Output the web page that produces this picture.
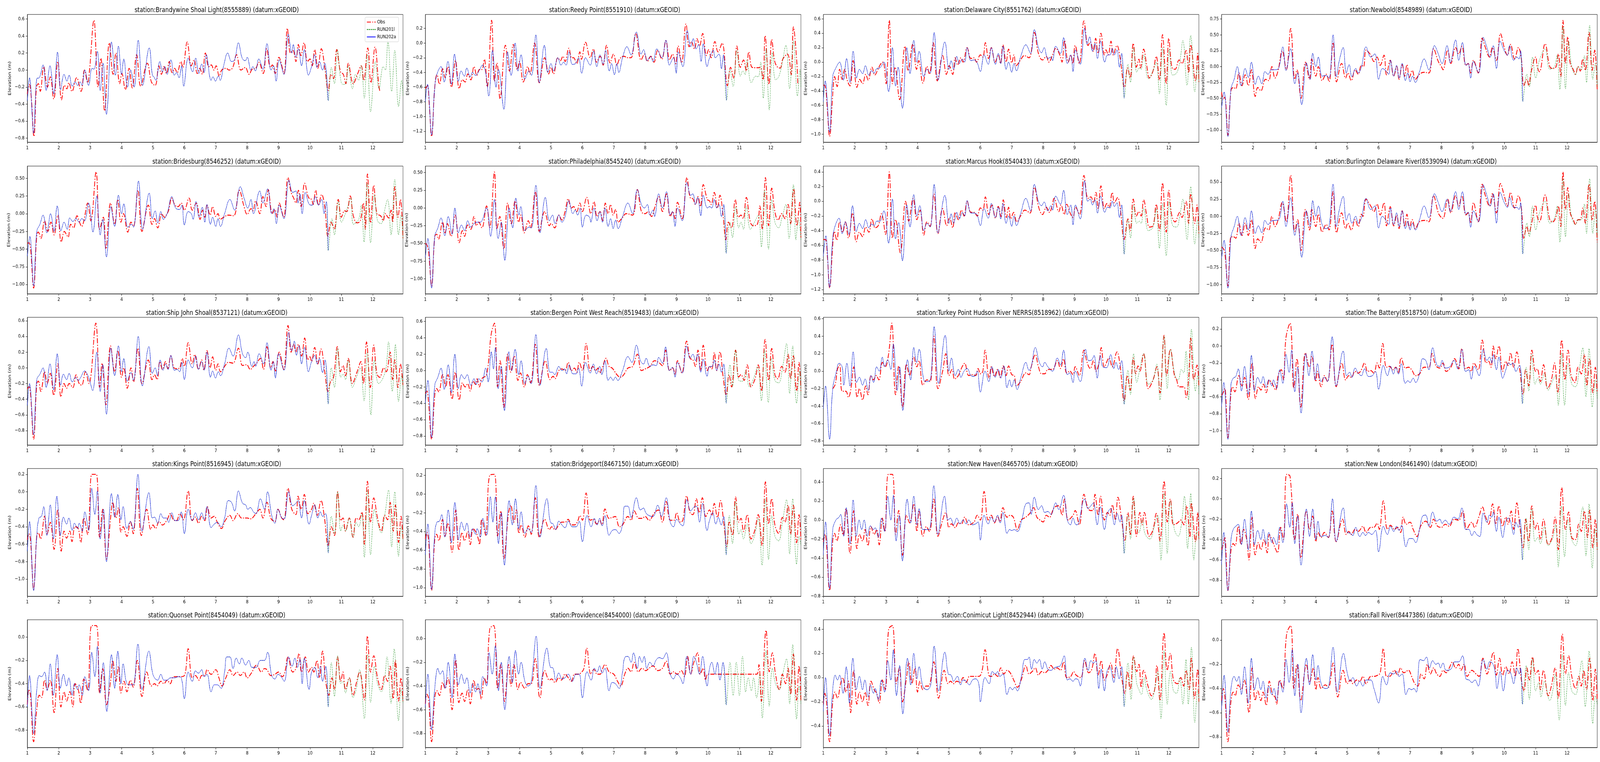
<!DOCTYPE html>
<html><head><meta charset="utf-8">
<script src="https://cdn.jsdelivr.net/npm/echarts@6/dist/echarts.min.js"></script>
<style>html,body{margin:0;padding:0;background:#fff;overflow:hidden}#c{width:5150px;height:1950px;transform-origin:0 0}</style>
</head><body><div id="c"></div>
<script>
// ---------------- DATA ----------------
const stations = ["Brandywine Shoal Light(8555889)","Reedy Point(8551910)","Delaware City(8551762)","Newbold(8548989)",
"Bridesburg(8546252)","Philadelphia(8545240)","Marcus Hook(8540433)","Burlington Delaware River(8539094)",
"Ship John Shoal(8537121)","Bergen Point West Reach(8519483)","Turkey Point Hudson River NERRS(8518962)","The Battery(8518750)",
"Kings Point(8516945)","Bridgeport(8467150)","New Haven(8465705)","New London(8461490)",
"Quonset Point(8454049)","Providence(8454000)","Conimicut Light(8452944)","Fall River(8447386)"];
const seriesNames = ["Obs","RUN201l","RUN202a"];
const yTickStep = [0.2,0.2,0.2,0.25, 0.25,0.25,0.2,0.25, 0.2,0.2,0.2,0.2, 0.2,0.2,0.2,0.2, 0.2,0.2,0.2,0.2];
const xTicks = [1,2,3,4,5,6,7,8,9,10,11,12];
const X_MIN = 1, X_MAX = 12.96;
const RUN202A_END = 10.59;

// 01 Brandywine Shoal Light
const obs01=[[1,-0.28],[1.07,-0.17],[1.12,-0.3],[1.21,-0.78],[1.29,-0.2],[1.35,-0.16],[1.41,-0.25],[1.52,0.04],[1.64,-0.2],[1.73,-0.08],[1.84,-0.34],[1.97,0.1],[2.09,-0.35],[2.18,-0.18],[2.26,-0.22],[2.32,-0.15],[2.42,-0.25],[2.57,-0.09],[2.71,-0.25],[2.82,0.0],[2.92,-0.15],[2.98,0.0],[3.12,0.585],[3.25,-0.2],[3.34,0.14],[3.46,-0.48],[3.61,0.32],[3.73,-0.05],[3.82,0.2],[3.94,-0.16],[4.01,-0.04],[4.12,-0.23],[4.24,0.02],[4.34,-0.21],[4.48,0.18],[4.61,-0.19],[4.82,0.08],[4.95,-0.14],[5.07,-0.18],[5.19,0.05],[5.27,-0.05],[5.35,0.04],[5.43,-0.04],[5.52,0.1],[5.61,-0.03],[5.69,0.02],[5.77,-0.03],[5.89,0.1],[5.95,0.03],[6.09,0.33],[6.22,0.05],[6.31,0.12],[6.41,-0.04],[6.49,0.02],[6.57,-0.05],[6.67,0.2],[6.78,0.04],[6.86,0.06],[6.94,0.0],[7.01,0.05],[7.11,-0.07],[7.19,0.0],[7.33,0.02],[7.42,0.0],[7.54,0.03],[7.66,0.18],[7.8,0.0],[7.94,0.03],[8.06,-0.05],[8.16,0.01],[8.27,0.02],[8.37,0.09],[8.51,-0.04],[8.62,0.25],[8.74,0.03],[8.8,0.06],[8.89,-0.04],[9.01,0.15],[9.17,-0.04],[9.28,0.49],[9.38,0.2],[9.46,0.23],[9.55,0.1],[9.63,0.3],[9.71,0.17],[9.81,0.32],[9.92,0.1],[10.0,0.13],[10.07,0.05],[10.15,0.24],[10.25,0.02],[10.36,0.25],[10.48,0.0],[10.58,-0.24],[10.67,-0.05],[10.75,-0.1],[10.85,0.24],[10.97,-0.02],[11.06,-0.05],[11.14,-0.16],[11.22,0.08],[11.38,-0.16],[11.51,-0.05],[11.63,0.05],[11.71,-0.12],[11.84,0.26],[11.94,-0.15],[12.07,0.27],[12.19,-0.18],[12.23,-0.26]];
const mod01=[[1,-0.36],[1.07,-0.09],[1.2,-0.74],[1.3,-0.1],[1.38,-0.09],[1.5,0.06],[1.6,-0.24],[1.72,0.05],[1.84,-0.28],[1.96,0.21],[2.06,-0.23],[2.17,-0.05],[2.26,-0.13],[2.33,-0.06],[2.43,-0.19],[2.52,-0.14],[2.6,-0.18],[2.68,-0.14],[2.74,-0.18],[2.83,0.0],[2.95,-0.18],[3.06,0.02],[3.12,0.01],[3.23,0.22],[3.32,-0.24],[3.41,0.08],[3.52,-0.52],[3.68,0.33],[3.8,-0.06],[3.9,0.28],[4.0,-0.05],[4.07,0.13],[4.19,-0.2],[4.29,0.0],[4.4,-0.2],[4.53,0.35],[4.67,-0.18],[4.88,0.26],[4.98,-0.06],[5.03,-0.08],[5.09,-0.12],[5.22,0.1],[5.3,-0.02],[5.38,0.04],[5.45,-0.05],[5.57,0.12],[5.68,-0.06],[5.75,-0.03],[5.83,-0.09],[5.91,0.05],[5.98,-0.19],[6.12,0.14],[6.26,-0.02],[6.36,0.14],[6.46,-0.04],[6.55,0.07],[6.63,-0.03],[6.7,0.18],[6.85,-0.12],[6.91,-0.08],[6.99,-0.13],[7.08,-0.07],[7.14,-0.12],[7.25,0.05],[7.38,0.2],[7.5,0.1],[7.6,0.12],[7.72,0.32],[7.84,0.14],[7.94,0.11],[8.0,0.15],[8.12,0.0],[8.18,0.04],[8.26,-0.01],[8.37,0.13],[8.5,0.01],[8.63,0.31],[8.76,0.0],[8.84,0.05],[8.92,-0.13],[9.02,0.12],[9.17,-0.05],[9.31,0.42],[9.42,0.2],[9.47,0.3],[9.55,0.15],[9.63,0.25],[9.73,0.05],[9.82,0.24],[9.95,-0.06],[10.05,0.04],[10.15,0.18],[10.22,0.03],[10.3,0.1],[10.4,0.0],[10.47,0.08],[10.58,-0.36],[10.68,0.03],[10.78,-0.16],[10.87,0.24],[10.98,-0.12],[11.05,-0.17],[11.15,-0.15],[11.22,0.05],[11.35,-0.22],[11.45,-0.05],[11.55,-0.12],[11.63,0.05],[11.73,-0.33],[11.82,0.18],[11.93,-0.49],[12.08,0.1],[12.2,-0.22],[12.33,0.04],[12.4,0.0],[12.48,0.34],[12.6,-0.25],[12.7,0.23],[12.82,-0.43],[12.92,-0.12],[12.96,-0.3]];
// 02 Reedy Point
const obs02=[[1,-0.62],[1.07,-0.58],[1.12,-0.8],[1.2,-1.27],[1.3,-0.6],[1.37,-0.43],[1.45,-0.56],[1.55,-0.35],[1.63,-0.47],[1.72,-0.32],[1.83,-0.6],[1.96,-0.24],[2.08,-0.62],[2.18,-0.5],[2.27,-0.53],[2.35,-0.42],[2.45,-0.5],[2.55,-0.32],[2.64,-0.44],[2.72,-0.36],[2.8,-0.36],[2.88,-0.22],[2.97,-0.6],[3.11,0.31],[3.2,-0.52],[3.28,-0.27],[3.38,-0.76],[3.55,-0.03],[3.68,-0.38],[3.8,-0.02],[3.93,-0.36],[4.0,-0.25],[4.12,-0.53],[4.26,-0.32],[4.33,-0.42],[4.48,0.0],[4.63,-0.54],[4.8,-0.2],[4.93,-0.42],[5.0,-0.33],[5.08,-0.42],[5.22,-0.2],[5.3,-0.24],[5.38,-0.18],[5.45,-0.25],[5.57,-0.07],[5.66,-0.2],[5.72,-0.2],[5.82,-0.28],[5.92,-0.12],[5.97,-0.22],[6.1,0.01],[6.25,-0.2],[6.35,-0.08],[6.45,-0.26],[6.57,-0.18],[6.66,-0.3],[6.77,-0.03],[6.88,-0.27],[6.99,-0.15],[7.1,-0.3],[7.18,-0.22],[7.32,-0.18],[7.45,-0.2],[7.55,-0.2],[7.7,0.13],[7.87,-0.23],[7.98,-0.15],[8.07,-0.25],[8.18,-0.18],[8.28,-0.26],[8.4,-0.1],[8.53,-0.22],[8.66,0.03],[8.78,-0.23],[8.87,-0.15],[8.97,-0.28],[9.05,-0.04],[9.16,-0.27],[9.3,0.26],[9.4,-0.05],[9.47,0.02],[9.57,-0.08],[9.65,0.06],[9.73,-0.04],[9.83,0.13],[9.95,-0.17],[10.02,-0.09],[10.1,-0.2],[10.22,0.02],[10.32,-0.12],[10.45,0.0],[10.62,-0.58],[10.72,-0.33],[10.82,-0.48],[10.92,-0.04],[11.03,-0.33],[11.13,-0.23],[11.22,-0.38],[11.3,-0.12],[11.4,-0.33],[11.5,-0.335],[11.6,-0.335],[11.67,-0.33],[11.75,-0.5],[11.82,0.1],[11.94,-0.56],[12.03,0.05],[12.12,-0.24],[12.2,-0.32],[12.3,-0.34],[12.38,-0.22],[12.53,-0.15],[12.65,-0.43],[12.72,0.22],[12.82,-0.2],[12.86,-0.57]];
const mod02=[[1,-0.8],[1.07,-0.56],[1.2,-1.25],[1.3,-0.6],[1.38,-0.41],[1.5,-0.32],[1.6,-0.53],[1.72,-0.25],[1.83,-0.56],[1.93,-0.15],[2.05,-0.52],[2.14,-0.38],[2.24,-0.45],[2.32,-0.34],[2.43,-0.46],[2.5,-0.4],[2.6,-0.44],[2.72,-0.37],[2.82,-0.3],[2.92,-0.4],[3.02,-0.72],[3.14,-0.1],[3.25,-0.6],[3.33,-0.36],[3.5,-0.9],[3.62,-0.12],[3.73,-0.44],[3.86,0.0],[3.95,-0.38],[4.05,-0.16],[4.17,-0.49],[4.3,-0.38],[4.38,-0.44],[4.52,0.11],[4.63,-0.54],[4.79,-0.03],[4.9,-0.4],[5.0,-0.28],[5.08,-0.38],[5.22,-0.2],[5.32,-0.3],[5.4,-0.26],[5.48,-0.3],[5.58,-0.12],[5.68,-0.29],[5.78,-0.28],[5.88,-0.2],[5.98,-0.41],[6.1,-0.2],[6.25,-0.3],[6.36,-0.11],[6.46,-0.32],[6.56,-0.16],[6.66,-0.29],[6.74,-0.1],[6.86,-0.38],[6.93,-0.28],[7.02,-0.43],[7.1,-0.28],[7.16,-0.4],[7.28,-0.2],[7.42,-0.05],[7.55,-0.16],[7.72,0.15],[7.87,-0.15],[7.95,-0.09],[8.06,-0.24],[8.17,-0.18],[8.25,-0.25],[8.37,-0.08],[8.53,-0.2],[8.66,0.04],[8.77,-0.3],[8.9,-0.2],[8.99,-0.41],[9.05,-0.12],[9.2,-0.32],[9.34,0.17],[9.45,-0.05],[9.53,0.06],[9.62,-0.08],[9.7,-0.02],[9.78,-0.25],[9.85,-0.01],[9.97,-0.32],[10.05,-0.2],[10.17,-0.1],[10.23,-0.2],[10.35,-0.15],[10.43,-0.35],[10.49,-0.16],[10.59,-0.78],[10.7,-0.36],[10.8,-0.59],[10.92,-0.1],[11.03,-0.45],[11.11,-0.38],[11.18,-0.43],[11.24,-0.23],[11.38,-0.54],[11.52,-0.45],[11.6,-0.46],[11.68,-0.26],[11.76,-0.75],[11.85,-0.08],[11.95,-0.91],[12.05,-0.13],[12.15,-0.5],[12.25,-0.46],[12.35,-0.3],[12.48,-0.03],[12.6,-0.62],[12.72,0.03],[12.85,-0.72],[12.93,-0.36],[12.96,-0.6]];
// 03 Delaware City
const obs03=[[1,-0.32],[1.06,-0.33],[1.12,-0.6],[1.2,-1.03],[1.3,-0.45],[1.36,-0.2],[1.44,-0.34],[1.52,-0.1],[1.6,-0.24],[1.68,-0.1],[1.76,-0.25],[1.85,-0.33],[1.95,0.02],[2.07,-0.35],[2.16,-0.24],[2.25,-0.3],[2.35,-0.17],[2.43,-0.25],[2.55,-0.07],[2.64,-0.18],[2.72,-0.12],[2.82,-0.03],[2.9,0.0],[3.0,-0.3],[3.1,0.58],[3.2,-0.3],[3.28,-0.07],[3.43,-0.52],[3.6,0.22],[3.7,-0.12],[3.85,0.25],[3.97,-0.1],[4.04,0.02],[4.17,-0.29],[4.3,-0.06],[4.38,-0.17],[4.5,0.27],[4.63,-0.26],[4.8,0.09],[4.92,-0.17],[5.01,-0.05],[5.12,-0.17],[5.2,0.06],[5.28,-0.04],[5.38,0.06],[5.45,0.0],[5.58,0.2],[5.7,0.05],[5.8,0.06],[5.88,0.0],[6.0,0.1],[6.08,0.07],[6.16,0.27],[6.26,0.05],[6.35,0.2],[6.47,0.0],[6.57,0.1],[6.64,-0.02],[6.72,0.24],[6.82,0.0],[6.9,0.18],[7.0,-0.01],[7.07,0.1],[7.14,-0.05],[7.28,0.03],[7.4,0.09],[7.55,0.06],[7.72,0.41],[7.85,0.12],[7.98,0.03],[8.1,0.08],[8.18,0.0],[8.3,0.1],[8.4,0.19],[8.53,0.1],[8.6,0.0],[8.68,0.3],[8.8,0.0],[8.88,0.1],[8.94,-0.02],[9.02,0.23],[9.15,-0.02],[9.3,0.57],[9.43,0.23],[9.5,0.28],[9.6,0.15],[9.67,0.33],[9.75,0.12],[9.84,0.4],[9.95,0.1],[10.0,0.17],[10.07,0.1],[10.16,0.29],[10.23,0.1],[10.35,0.23],[10.45,0.06],[10.59,-0.35],[10.69,-0.08],[10.77,-0.22],[10.87,0.26],[10.97,-0.07],[11.05,0.04],[11.1,-0.08],[11.2,0.18],[11.3,-0.05],[11.38,-0.22],[11.5,-0.12],[11.6,0.08],[11.7,-0.25],[11.8,0.38],[11.92,-0.3],[12.0,0.33],[12.1,-0.07],[12.2,-0.1],[12.33,0.03],[12.42,-0.02],[12.55,0.16],[12.63,-0.15],[12.7,0.24],[12.85,-0.26],[12.92,0.12],[12.96,-0.28]];
const mod03=[[1,-0.55],[1.06,-0.26],[1.2,-0.97],[1.3,-0.2],[1.4,-0.08],[1.52,0.0],[1.64,-0.25],[1.74,0.05],[1.85,-0.28],[1.95,0.15],[2.06,-0.22],[2.15,-0.1],[2.25,-0.16],[2.34,-0.05],[2.45,-0.18],[2.53,-0.12],[2.62,-0.15],[2.7,-0.09],[2.8,-0.08],[2.93,0.0],[3.08,-0.41],[3.2,0.2],[3.3,-0.33],[3.38,-0.07],[3.52,-0.64],[3.66,0.2],[3.76,-0.16],[3.88,0.3],[3.98,0.0],[4.05,0.15],[4.2,-0.2],[4.3,-0.1],[4.4,-0.15],[4.53,0.41],[4.65,-0.25],[4.87,0.28],[5.0,-0.1],[5.07,0.02],[5.15,-0.1],[5.25,0.08],[5.33,-0.02],[5.43,0.04],[5.5,0.0],[5.58,0.2],[5.7,0.02],[5.8,0.03],[5.9,-0.01],[6.0,-0.13],[6.12,0.1],[6.25,-0.03],[6.35,0.2],[6.48,-0.03],[6.57,0.12],[6.65,-0.02],[6.72,0.22],[6.82,-0.1],[6.9,0.0],[7.0,-0.14],[7.07,-0.02],[7.15,-0.12],[7.28,0.07],[7.45,0.24],[7.6,0.12],[7.72,0.45],[7.85,0.2],[7.95,0.13],[8.03,0.2],[8.15,0.05],[8.25,0.07],[8.3,0.02],[8.4,0.22],[8.55,0.12],[8.65,0.34],[8.77,-0.02],[8.88,0.1],[8.95,-0.13],[9.03,0.17],[9.18,-0.03],[9.32,0.47],[9.4,0.25],[9.48,0.35],[9.57,0.15],[9.65,0.26],[9.73,0.05],[9.83,0.29],[9.96,0.0],[10.05,0.1],[10.13,0.1],[10.2,0.19],[10.27,0.1],[10.35,0.17],[10.43,-0.07],[10.5,0.12],[10.58,-0.5],[10.7,-0.03],[10.78,-0.28],[10.88,0.2],[10.98,-0.14],[11.06,-0.08],[11.12,-0.1],[11.2,0.1],[11.35,-0.23],[11.5,-0.12],[11.6,0.0],[11.7,-0.44],[11.8,0.2],[11.92,-0.6],[12.02,0.18],[12.12,-0.18],[12.25,-0.15],[12.35,0.0],[12.45,0.3],[12.58,-0.32],[12.7,0.37],[12.83,-0.41],[12.92,-0.05],[12.96,-0.28]];
// 04 Newbold
const obs04=[[1,-0.4],[1.05,-0.52],[1.1,-0.48],[1.2,-1.08],[1.3,-0.37],[1.38,-0.33],[1.45,-0.35],[1.55,-0.1],[1.65,-0.3],[1.75,-0.13],[1.85,-0.3],[1.95,-0.05],[2.07,-0.47],[2.15,-0.33],[2.25,-0.38],[2.4,-0.2],[2.5,-0.22],[2.6,0.0],[2.7,-0.18],[2.8,-0.06],[2.93,0.25],[3.06,-0.05],[3.2,0.6],[3.33,-0.2],[3.4,-0.05],[3.53,-0.5],[3.67,0.07],[3.8,-0.2],[3.87,0.12],[4.0,-0.15],[4.08,0.0],[4.2,-0.22],[4.33,-0.12],[4.42,-0.24],[4.55,0.38],[4.66,-0.24],[4.82,0.05],[4.95,-0.18],[5.02,-0.1],[5.13,-0.22],[5.25,-0.05],[5.35,-0.12],[5.45,0.02],[5.52,0.0],[5.6,0.26],[5.75,0.18],[5.85,0.08],[5.95,0.15],[6.05,0.02],[6.17,0.18],[6.25,-0.13],[6.37,0.1],[6.48,-0.15],[6.58,0.0],[6.65,-0.2],[6.75,0.03],[6.83,-0.15],[6.9,0.03],[6.98,-0.17],[7.07,-0.06],[7.17,-0.2],[7.3,-0.12],[7.45,-0.09],[7.6,-0.1],[7.75,0.28],[7.9,0.08],[8.0,0.0],[8.05,-0.05],[8.2,0.26],[8.3,0.05],[8.45,0.3],[8.55,0.2],[8.65,0.32],[8.78,0.02],[8.85,0.05],[8.93,-0.1],[9.02,0.1],[9.17,-0.1],[9.3,0.45],[9.4,0.3],[9.53,0.15],[9.62,0.3],[9.75,0.1],[9.88,0.52],[10.0,0.3],[10.1,0.18],[10.2,0.35],[10.33,0.12],[10.45,0.3],[10.55,0.1],[10.62,-0.3],[10.72,-0.2],[10.78,-0.3],[10.85,-0.1],[11.0,0.15],[11.05,0.0],[11.12,-0.08],[11.3,0.36],[11.45,0.0],[11.55,-0.03],[11.65,0.0],[11.72,0.2],[11.8,-0.16],[11.87,0.73],[11.95,0.05],[12.02,0.47],[12.1,0.05],[12.2,-0.05],[12.27,-0.12],[12.35,0.0],[12.42,-0.07],[12.5,0.12],[12.58,-0.06],[12.7,0.54],[12.8,-0.06],[12.88,0.26],[12.96,-0.37]];
const mod04=[[1,-0.65],[1.08,-0.4],[1.2,-1.1],[1.3,-0.35],[1.4,-0.2],[1.5,0.0],[1.62,-0.3],[1.75,-0.03],[1.85,-0.17],[1.95,0.07],[2.07,-0.28],[2.17,-0.15],[2.28,-0.27],[2.38,-0.08],[2.48,-0.12],[2.58,-0.05],[2.7,-0.05],[2.82,-0.02],[2.95,0.31],[3.05,-0.06],[3.2,0.28],[3.33,-0.27],[3.42,-0.1],[3.55,-0.6],[3.7,0.06],[3.82,-0.2],[3.9,0.21],[4.0,0.0],[4.08,0.15],[4.2,-0.15],[4.32,-0.14],[4.42,-0.18],[4.55,0.5],[4.65,-0.16],[4.75,0.1],[4.87,0.3],[4.97,-0.1],[5.06,0.03],[5.15,-0.16],[5.27,-0.03],[5.35,-0.1],[5.45,-0.01],[5.6,0.31],[5.75,0.15],[5.88,0.2],[6.0,-0.2],[6.12,-0.03],[6.22,-0.06],[6.32,-0.12],[6.38,0.1],[6.48,-0.15],[6.57,0.02],[6.65,-0.18],[6.75,0.05],[6.85,-0.22],[6.93,-0.1],[7.0,-0.24],[7.08,-0.15],[7.17,-0.25],[7.3,-0.08],[7.45,0.12],[7.6,-0.05],[7.78,0.33],[7.9,0.2],[8.02,0.05],[8.18,0.33],[8.28,0.06],[8.45,0.42],[8.55,0.1],[8.67,0.38],[8.78,0.02],[8.85,0.05],[8.93,-0.18],[9.02,0.08],[9.18,-0.1],[9.33,0.46],[9.45,0.3],[9.55,0.15],[9.65,0.33],[9.75,-0.03],[9.87,0.4],[10.0,0.25],[10.1,0.18],[10.17,0.33],[10.3,0.1],[10.4,0.15],[10.47,0.12],[10.52,0.25],[10.59,-0.55],[10.72,-0.12],[10.8,-0.32],[10.9,0.15],[11.0,-0.18],[11.12,0.1],[11.3,0.28],[11.45,-0.04],[11.6,0.0],[11.68,0.18],[11.77,-0.36],[11.87,0.63],[11.95,-0.35],[12.05,0.4],[12.15,0.0],[12.27,-0.13],[12.35,0.0],[12.45,-0.05],[12.55,0.17],[12.62,-0.25],[12.72,0.65],[12.82,-0.2],[12.9,0.05],[12.96,-0.32]];
// 05 Bridesburg
const obs05=[[1,-0.42],[1.05,-0.41],[1.1,-0.48],[1.2,-1.05],[1.3,-0.3],[1.35,-0.26],[1.43,-0.35],[1.55,-0.1],[1.65,-0.25],[1.75,-0.12],[1.85,-0.3],[1.97,-0.02],[2.08,-0.4],[2.18,-0.25],[2.25,-0.3],[2.3,-0.33],[2.38,-0.15],[2.47,-0.2],[2.58,-0.03],[2.67,-0.13],[2.73,-0.18],[2.8,-0.1],[2.92,0.15],[3.02,-0.1],[3.19,0.59],[3.3,-0.22],[3.42,-0.05],[3.5,-0.5],[3.65,0.15],[3.78,-0.15],[3.88,0.2],[3.98,-0.12],[4.06,0.0],[4.2,-0.26],[4.3,-0.12],[4.38,-0.18],[4.52,0.33],[4.65,-0.25],[4.85,0.12],[4.97,-0.15],[5.05,-0.07],[5.15,-0.2],[5.28,0.0],[5.36,-0.05],[5.45,0.0],[5.5,0.05],[5.6,0.22],[5.7,0.12],[5.8,0.1],[5.9,0.15],[6.0,0.05],[6.15,0.22],[6.25,0.05],[6.38,0.15],[6.5,-0.08],[6.58,0.05],[6.65,-0.05],[6.72,0.12],[6.82,-0.02],[6.9,0.1],[7.0,-0.04],[7.07,0.0],[7.14,-0.08],[7.25,-0.05],[7.4,-0.02],[7.57,-0.03],[7.75,0.33],[7.9,0.1],[8.0,-0.01],[8.12,0.07],[8.18,0.04],[8.27,0.18],[8.4,0.0],[8.5,0.24],[8.6,0.1],[8.67,0.34],[8.8,0.0],[8.88,0.06],[8.95,-0.05],[9.02,0.15],[9.16,-0.05],[9.3,0.51],[9.4,0.3],[9.48,0.22],[9.55,0.15],[9.63,0.33],[9.72,0.1],[9.83,0.43],[9.95,0.23],[10.05,0.2],[10.1,0.13],[10.18,0.33],[10.27,0.12],[10.37,0.27],[10.47,0.1],[10.57,-0.32],[10.67,-0.12],[10.77,-0.22],[10.9,0.2],[11.0,-0.05],[11.1,0.04],[11.17,0.03],[11.28,0.25],[11.38,-0.03],[11.5,-0.13],[11.6,-0.1],[11.7,0.15],[11.76,-0.22],[11.83,0.56],[11.93,-0.13],[12.03,0.4],[12.13,0.0],[12.25,-0.03],[12.33,-0.1],[12.4,0.0],[12.5,-0.06],[12.58,0.05],[12.63,-0.12],[12.7,0.38],[12.8,-0.05],[12.88,0.2],[12.96,-0.35]];
const mod05=[[1,-0.6],[1.08,-0.32],[1.2,-1.02],[1.3,-0.25],[1.4,-0.15],[1.5,-0.02],[1.62,-0.27],[1.74,0.0],[1.85,-0.25],[1.95,0.11],[2.07,-0.24],[2.17,-0.12],[2.27,-0.22],[2.35,-0.06],[2.45,-0.11],[2.55,-0.07],[2.65,-0.12],[2.73,-0.07],[2.82,-0.1],[2.95,0.15],[3.09,-0.26],[3.21,0.25],[3.32,-0.3],[3.4,-0.08],[3.52,-0.61],[3.66,0.1],[3.78,-0.18],[3.9,0.26],[4.0,0.0],[4.07,0.14],[4.2,-0.19],[4.32,-0.15],[4.38,-0.19],[4.54,0.46],[4.67,-0.22],[4.88,0.29],[4.98,-0.07],[5.07,0.04],[5.15,-0.13],[5.25,0.03],[5.33,-0.08],[5.45,0.0],[5.6,0.24],[5.72,0.08],[5.85,0.06],[5.92,0.12],[6.0,-0.16],[6.12,0.03],[6.22,0.0],[6.28,-0.08],[6.37,0.17],[6.47,-0.05],[6.57,0.09],[6.65,-0.12],[6.72,0.13],[6.83,-0.15],[6.9,-0.05],[7.0,-0.18],[7.07,-0.07],[7.15,-0.18],[7.28,0.0],[7.45,0.2],[7.6,0.05],[7.78,0.38],[7.9,0.22],[8.02,0.08],[8.12,0.2],[8.2,0.0],[8.4,0.32],[8.5,0.15],[8.65,0.35],[8.78,0.0],[8.85,0.07],[8.93,-0.14],[9.02,0.12],[9.17,-0.07],[9.33,0.47],[9.45,0.3],[9.55,0.32],[9.62,0.15],[9.68,0.28],[9.75,0.0],[9.85,0.3],[9.98,0.13],[10.07,0.12],[10.17,0.24],[10.27,0.12],[10.37,0.2],[10.45,0.0],[10.52,0.17],[10.58,-0.52],[10.7,-0.07],[10.78,-0.3],[10.9,0.17],[11.0,-0.12],[11.15,0.03],[11.3,0.22],[11.38,-0.15],[11.55,-0.08],[11.63,0.12],[11.72,-0.4],[11.82,0.43],[11.93,-0.41],[12.05,0.27],[12.15,-0.1],[12.27,-0.14],[12.35,0.0],[12.47,0.2],[12.58,-0.3],[12.7,0.48],[12.82,-0.3],[12.9,-0.02],[12.96,-0.35]];
// 06 Philadelphia
const obs06=[[1,-0.5],[1.05,-0.52],[1.1,-0.6],[1.2,-1.1],[1.3,-0.4],[1.36,-0.37],[1.42,-0.44],[1.55,-0.2],[1.63,-0.35],[1.7,-0.22],[1.82,-0.4],[1.95,-0.1],[2.08,-0.49],[2.18,-0.32],[2.25,-0.4],[2.35,-0.24],[2.45,-0.3],[2.55,-0.12],[2.63,-0.25],[2.7,-0.2],[2.8,-0.28],[2.95,0.03],[3.05,-0.28],[3.2,0.51],[3.28,-0.3],[3.37,-0.12],[3.5,-0.58],[3.62,0.07],[3.74,-0.22],[3.86,0.1],[3.97,-0.2],[4.04,-0.1],[4.15,-0.35],[4.28,-0.18],[4.35,-0.28],[4.5,0.23],[4.63,-0.33],[4.8,-0.05],[4.95,-0.25],[5.0,-0.22],[5.12,-0.28],[5.25,-0.1],[5.35,-0.17],[5.45,-0.05],[5.55,0.13],[5.65,0.0],[5.72,0.02],[5.82,-0.05],[5.92,0.07],[6.0,-0.05],[6.14,0.15],[6.27,-0.08],[6.37,0.09],[6.47,-0.12],[6.56,-0.05],[6.65,-0.18],[6.73,0.07],[6.82,-0.08],[6.9,0.05],[6.98,-0.1],[7.06,-0.02],[7.14,-0.2],[7.25,-0.15],[7.4,-0.08],[7.6,-0.1],[7.75,0.26],[7.88,-0.05],[8.0,-0.08],[8.1,-0.05],[8.2,-0.12],[8.3,0.0],[8.43,0.16],[8.55,-0.05],[8.68,0.2],[8.8,-0.12],[8.88,-0.05],[8.95,-0.15],[9.03,0.08],[9.18,-0.15],[9.33,0.43],[9.43,0.15],[9.52,0.13],[9.6,0.05],[9.68,0.16],[9.76,0.02],[9.85,0.33],[9.98,0.12],[10.05,0.1],[10.1,0.05],[10.2,0.22],[10.3,0.0],[10.38,0.18],[10.48,-0.1],[10.57,-0.45],[10.65,-0.2],[10.75,-0.28],[10.87,0.12],[10.97,-0.13],[11.05,-0.1],[11.12,-0.15],[11.22,0.15],[11.35,-0.2],[11.45,-0.25],[11.58,-0.22],[11.65,0.03],[11.73,-0.3],[11.83,0.43],[11.93,-0.25],[12.03,0.28],[12.13,-0.05],[12.23,-0.17],[12.35,-0.08],[12.45,-0.15],[12.55,0.05],[12.63,-0.22],[12.73,0.27],[12.83,-0.25],[12.92,0.08],[12.96,-0.42]];
const mod06=[[1,-0.7],[1.08,-0.43],[1.2,-1.13],[1.3,-0.4],[1.4,-0.28],[1.5,-0.14],[1.62,-0.39],[1.73,-0.12],[1.85,-0.37],[1.94,0.0],[2.05,-0.35],[2.15,-0.24],[2.25,-0.32],[2.35,-0.18],[2.45,-0.27],[2.55,-0.22],[2.65,-0.2],[2.75,-0.2],[2.95,0.0],[3.08,-0.4],[3.2,0.12],[3.32,-0.43],[3.42,-0.2],[3.53,-0.74],[3.67,0.0],[3.78,-0.28],[3.88,0.14],[3.98,-0.1],[4.04,0.02],[4.17,-0.32],[4.3,-0.27],[4.38,-0.28],[4.52,0.32],[4.65,-0.35],[4.82,0.15],[4.95,-0.18],[5.05,-0.1],[5.13,-0.22],[5.25,-0.1],[5.35,-0.2],[5.45,-0.12],[5.57,0.1],[5.7,-0.08],[5.77,-0.03],[5.85,-0.1],[5.93,0.0],[6.0,-0.27],[6.12,-0.1],[6.23,-0.13],[6.27,-0.2],[6.37,0.0],[6.47,-0.18],[6.56,-0.05],[6.64,-0.2],[6.72,0.0],[6.82,-0.26],[6.9,-0.15],[6.98,-0.29],[7.06,-0.17],[7.14,-0.29],[7.28,-0.12],[7.45,0.07],[7.6,-0.08],[7.75,0.26],[7.88,0.05],[7.98,0.0],[8.07,0.05],[8.15,-0.1],[8.25,-0.03],[8.3,-0.12],[8.43,0.2],[8.55,0.0],[8.68,0.23],[8.8,-0.1],[8.87,-0.05],[8.95,-0.26],[9.03,0.0],[9.18,-0.18],[9.33,0.36],[9.45,0.18],[9.52,0.2],[9.6,0.05],[9.67,0.15],[9.77,-0.11],[9.85,0.18],[9.98,0.0],[10.05,0.02],[10.12,0.0],[10.2,0.12],[10.28,0.0],[10.35,0.05],[10.43,-0.12],[10.5,0.05],[10.58,-0.64],[10.7,-0.2],[10.78,-0.42],[10.88,0.02],[10.98,-0.28],[11.05,-0.2],[11.13,-0.3],[11.22,0.02],[11.35,-0.3],[11.48,-0.2],[11.6,-0.1],[11.7,-0.55],[11.8,0.25],[11.93,-0.58],[12.03,0.12],[12.13,-0.2],[12.25,-0.28],[12.35,-0.15],[12.48,0.05],[12.58,-0.43],[12.72,0.33],[12.8,-0.45],[12.88,-0.15],[12.96,-0.45]];
// 07 Marcus Hook
const obs07=[[1,-0.52],[1.07,-0.52],[1.13,-0.75],[1.2,-1.18],[1.3,-0.6],[1.35,-0.41],[1.43,-0.53],[1.52,-0.28],[1.62,-0.42],[1.7,-0.28],[1.8,-0.5],[1.93,-0.16],[2.05,-0.55],[2.15,-0.42],[2.25,-0.48],[2.35,-0.35],[2.45,-0.42],[2.55,-0.24],[2.65,-0.36],[2.75,-0.33],[2.85,-0.17],[2.98,-0.45],[3.1,0.4],[3.2,-0.5],[3.3,-0.25],[3.45,-0.7],[3.62,0.0],[3.72,-0.27],[3.86,0.04],[3.98,-0.25],[4.08,-0.12],[4.2,-0.46],[4.3,-0.28],[4.4,-0.34],[4.52,0.1],[4.65,-0.44],[4.8,-0.1],[4.93,-0.33],[5.02,-0.22],[5.12,-0.36],[5.2,-0.15],[5.3,-0.25],[5.4,-0.12],[5.48,-0.2],[5.58,0.0],[5.7,-0.15],[5.8,-0.15],[5.9,-0.2],[6.0,-0.09],[6.08,-0.12],[6.16,0.06],[6.27,-0.18],[6.37,-0.05],[6.48,-0.23],[6.57,-0.07],[6.66,-0.21],[6.73,0.02],[6.83,-0.22],[6.9,-0.08],[6.97,-0.24],[7.06,-0.15],[7.16,-0.28],[7.28,-0.2],[7.42,-0.12],[7.58,-0.16],[7.72,0.19],[7.87,-0.1],[7.98,-0.18],[8.1,-0.08],[8.2,-0.15],[8.28,-0.07],[8.35,0.04],[8.5,-0.14],[8.57,-0.05],[8.67,-0.18],[8.75,-0.04],[8.87,-0.17],[8.95,-0.22],[9.03,-0.08],[9.16,-0.18],[9.3,0.35],[9.43,0.04],[9.52,0.06],[9.6,-0.02],[9.68,0.12],[9.75,-0.1],[9.84,0.21],[9.95,-0.1],[10.03,-0.03],[10.1,-0.08],[10.2,0.12],[10.27,-0.02],[10.37,0.05],[10.45,-0.08],[10.58,-0.52],[10.7,-0.24],[10.77,-0.4],[10.87,0.03],[10.97,-0.2],[11.05,-0.14],[11.12,-0.2],[11.2,0.02],[11.3,-0.2],[11.38,-0.35],[11.5,-0.33],[11.6,-0.04],[11.7,-0.4],[11.8,0.25],[11.92,-0.42],[12.0,0.15],[12.1,-0.2],[12.2,-0.28],[12.35,-0.15],[12.42,-0.22],[12.55,0.0],[12.63,-0.3],[12.7,0.1],[12.83,-0.3],[12.9,-0.05],[12.96,-0.45]];
const mod07=[[1,-0.75],[1.08,-0.47],[1.2,-1.17],[1.3,-0.5],[1.38,-0.33],[1.5,-0.23],[1.6,-0.44],[1.7,-0.28],[1.82,-0.45],[1.93,-0.06],[2.05,-0.41],[2.15,-0.3],[2.25,-0.37],[2.35,-0.25],[2.45,-0.36],[2.53,-0.31],[2.62,-0.33],[2.7,-0.27],[2.8,-0.27],[2.93,-0.13],[3.08,-0.57],[3.2,0.03],[3.3,-0.51],[3.4,-0.29],[3.52,-0.81],[3.66,-0.05],[3.76,-0.35],[3.88,0.09],[3.98,-0.2],[4.07,-0.06],[4.2,-0.4],[4.3,-0.3],[4.4,-0.35],[4.53,0.23],[4.65,-0.43],[4.87,0.08],[5.0,-0.3],[5.07,-0.17],[5.15,-0.3],[5.25,-0.15],[5.33,-0.24],[5.43,-0.15],[5.5,-0.2],[5.58,0.01],[5.7,-0.16],[5.8,-0.16],[5.9,-0.19],[6.0,-0.33],[6.12,-0.1],[6.25,-0.23],[6.35,-0.03],[6.48,-0.22],[6.57,-0.08],[6.65,-0.24],[6.72,-0.03],[6.82,-0.3],[6.9,-0.2],[7.0,-0.34],[7.07,-0.2],[7.15,-0.33],[7.28,-0.17],[7.45,0.04],[7.6,-0.13],[7.72,0.23],[7.85,0.0],[7.95,-0.06],[8.03,-0.01],[8.15,-0.13],[8.25,-0.06],[8.3,-0.12],[8.4,0.07],[8.55,-0.04],[8.65,0.15],[8.77,-0.18],[8.88,-0.05],[8.95,-0.32],[9.03,-0.05],[9.18,-0.24],[9.32,0.28],[9.42,0.0],[9.5,0.03],[9.57,-0.05],[9.65,0.02],[9.73,-0.16],[9.83,0.07],[9.96,-0.15],[10.05,-0.08],[10.13,-0.09],[10.2,0.0],[10.27,-0.07],[10.35,-0.02],[10.43,-0.22],[10.5,-0.05],[10.58,-0.72],[10.7,-0.25],[10.78,-0.5],[10.88,-0.05],[10.98,-0.3],[11.06,-0.27],[11.12,-0.3],[11.2,-0.09],[11.35,-0.4],[11.5,-0.35],[11.6,-0.1],[11.7,-0.64],[11.8,-0.03],[11.92,-0.74],[12.02,0.0],[12.12,-0.33],[12.25,-0.35],[12.35,-0.2],[12.45,0.03],[12.58,-0.52],[12.7,0.2],[12.83,-0.58],[12.92,-0.25],[12.96,-0.5]];
// 08 Burlington Delaware River
const obs08=[[1,-0.45],[1.05,-0.47],[1.1,-0.52],[1.2,-1.02],[1.3,-0.3],[1.38,-0.3],[1.45,-0.32],[1.55,-0.1],[1.65,-0.28],[1.75,-0.1],[1.85,-0.28],[1.95,-0.05],[2.07,-0.47],[2.15,-0.33],[2.25,-0.38],[2.4,-0.17],[2.5,-0.2],[2.6,0.0],[2.7,-0.15],[2.8,-0.05],[2.93,0.2],[3.06,-0.08],[3.2,0.6],[3.33,-0.22],[3.42,-0.05],[3.53,-0.5],[3.67,0.1],[3.8,-0.2],[3.87,0.1],[4.0,-0.15],[4.08,0.03],[4.2,-0.23],[4.33,-0.12],[4.42,-0.2],[4.55,0.36],[4.66,-0.24],[4.82,0.05],[4.95,-0.18],[5.02,-0.1],[5.13,-0.2],[5.25,-0.05],[5.35,-0.15],[5.45,0.03],[5.5,0.0],[5.6,0.25],[5.75,0.15],[5.85,0.07],[5.95,0.18],[6.05,0.02],[6.17,0.2],[6.25,-0.14],[6.37,0.14],[6.48,-0.14],[6.58,0.02],[6.65,-0.18],[6.75,0.08],[6.83,-0.15],[6.9,0.03],[6.98,-0.17],[7.07,-0.05],[7.17,-0.18],[7.3,-0.08],[7.5,-0.06],[7.6,-0.08],[7.75,0.3],[7.9,0.05],[8.0,-0.02],[8.05,-0.03],[8.2,0.25],[8.3,0.05],[8.45,0.3],[8.55,0.15],[8.65,0.3],[8.78,0.02],[8.85,0.05],[8.93,-0.1],[9.02,0.2],[9.17,-0.08],[9.3,0.47],[9.4,0.3],[9.53,0.15],[9.62,0.33],[9.75,0.05],[9.88,0.48],[10.0,0.3],[10.1,0.15],[10.2,0.35],[10.33,0.12],[10.45,0.3],[10.55,0.1],[10.62,-0.33],[10.72,-0.15],[10.78,-0.25],[10.85,-0.15],[11.0,0.16],[11.05,0.0],[11.12,-0.08],[11.3,0.31],[11.45,-0.05],[11.55,-0.08],[11.65,0.0],[11.72,0.15],[11.8,-0.15],[11.87,0.65],[11.95,0.1],[12.02,0.42],[12.1,0.05],[12.2,-0.05],[12.27,-0.12],[12.35,-0.05],[12.42,-0.05],[12.5,0.12],[12.58,-0.1],[12.7,0.47],[12.8,-0.06],[12.88,0.22],[12.96,-0.38]];
const mod08=[[1,-0.62],[1.08,-0.35],[1.2,-1.05],[1.3,-0.3],[1.4,-0.15],[1.5,0.0],[1.62,-0.28],[1.75,-0.02],[1.85,-0.2],[1.95,0.08],[2.07,-0.25],[2.17,-0.14],[2.28,-0.24],[2.38,-0.06],[2.48,-0.12],[2.58,-0.07],[2.7,-0.06],[2.82,-0.05],[2.95,0.22],[3.05,-0.15],[3.2,0.27],[3.33,-0.28],[3.42,-0.1],[3.55,-0.6],[3.7,0.08],[3.82,-0.15],[3.9,0.23],[4.0,0.0],[4.08,0.15],[4.2,-0.12],[4.32,-0.18],[4.42,-0.15],[4.55,0.47],[4.65,-0.15],[4.75,0.1],[4.87,0.29],[4.97,-0.06],[5.06,0.04],[5.15,-0.1],[5.27,0.0],[5.35,-0.1],[5.45,-0.03],[5.6,0.26],[5.75,0.1],[5.88,0.15],[6.0,-0.17],[6.12,0.0],[6.22,-0.05],[6.32,-0.12],[6.38,0.12],[6.48,-0.12],[6.57,0.05],[6.65,-0.15],[6.75,0.08],[6.85,-0.18],[6.93,-0.07],[7.0,-0.2],[7.08,-0.1],[7.17,-0.2],[7.3,-0.05],[7.45,0.15],[7.6,-0.02],[7.78,0.33],[7.9,0.2],[8.02,0.07],[8.18,0.25],[8.28,0.07],[8.45,0.36],[8.55,0.1],[8.67,0.36],[8.78,0.03],[8.85,0.06],[8.93,-0.16],[9.02,0.08],[9.18,-0.08],[9.33,0.46],[9.45,0.3],[9.55,0.15],[9.65,0.33],[9.75,-0.1],[9.87,0.35],[10.0,0.2],[10.1,0.13],[10.17,0.28],[10.3,0.13],[10.4,0.13],[10.47,0.1],[10.52,0.2],[10.59,-0.55],[10.72,-0.1],[10.8,-0.3],[10.9,0.15],[11.0,-0.2],[11.12,0.05],[11.3,0.22],[11.45,-0.1],[11.6,-0.03],[11.68,0.15],[11.77,-0.38],[11.87,0.55],[11.95,-0.3],[12.05,0.33],[12.15,-0.02],[12.27,-0.12],[12.35,-0.05],[12.45,-0.05],[12.55,0.18],[12.62,-0.25],[12.72,0.55],[12.82,-0.25],[12.9,0.1],[12.96,-0.3]];
// 09 Ship John Shoal
const obs09=[[1,-0.27],[1.05,-0.24],[1.1,-0.32],[1.2,-0.91],[1.3,-0.2],[1.35,-0.17],[1.43,-0.3],[1.55,-0.05],[1.63,-0.2],[1.73,-0.07],[1.84,-0.35],[1.97,0.05],[2.07,-0.37],[2.17,-0.2],[2.25,-0.26],[2.33,-0.2],[2.45,-0.25],[2.55,-0.09],[2.65,-0.2],[2.73,-0.22],[2.85,-0.05],[2.96,-0.2],[3.18,0.57],[3.3,-0.25],[3.38,0.06],[3.5,-0.47],[3.65,0.28],[3.78,-0.05],[3.88,0.22],[4.0,-0.12],[4.07,0.0],[4.18,-0.26],[4.3,0.0],[4.38,-0.18],[4.52,0.25],[4.65,-0.2],[4.85,0.1],[4.97,-0.15],[5.05,-0.09],[5.13,-0.15],[5.22,0.08],[5.3,-0.02],[5.4,0.08],[5.47,-0.01],[5.57,0.15],[5.67,0.0],[5.75,-0.01],[5.85,0.0],[5.93,0.12],[6.0,0.02],[6.12,0.32],[6.25,0.05],[6.33,0.17],[6.45,-0.02],[6.55,0.1],[6.62,-0.03],[6.72,0.22],[6.82,0.0],[6.9,0.14],[7.0,-0.03],[7.07,0.05],[7.15,-0.05],[7.3,0.03],[7.4,0.07],[7.55,0.06],[7.72,0.25],[7.85,0.03],[7.98,0.04],[8.1,-0.02],[8.2,0.02],[8.3,0.06],[8.42,0.12],[8.52,-0.02],[8.63,0.27],[8.75,0.0],[8.82,0.08],[8.9,-0.04],[9.02,0.2],[9.16,-0.02],[9.3,0.54],[9.4,0.2],[9.48,0.3],[9.55,0.2],[9.63,0.3],[9.73,0.15],[9.83,0.38],[9.93,0.1],[10.0,0.14],[10.05,0.08],[10.15,0.26],[10.25,0.05],[10.35,0.24],[10.47,-0.05],[10.57,-0.3],[10.65,-0.18],[10.75,-0.12],[10.87,0.27],[10.97,-0.05],[11.05,0.03],[11.13,-0.1],[11.22,0.12],[11.35,-0.2],[11.5,-0.05],[11.62,0.08],[11.7,-0.2],[11.8,0.33],[11.92,-0.25],[12.03,0.29],[12.13,-0.07],[12.22,-0.12],[12.35,0.0],[12.43,-0.05],[12.55,0.2],[12.63,-0.15],[12.7,0.1],[12.8,-0.25],[12.88,0.05],[12.96,-0.22]];
const mod09=[[1,-0.48],[1.07,-0.2],[1.2,-0.85],[1.3,-0.15],[1.4,-0.08],[1.5,0.0],[1.6,-0.25],[1.72,0.05],[1.84,-0.28],[1.95,0.18],[2.06,-0.22],[2.15,-0.08],[2.25,-0.15],[2.33,-0.07],[2.43,-0.18],[2.53,-0.12],[2.62,-0.16],[2.7,-0.12],[2.82,-0.04],[2.95,-0.12],[3.08,-0.29],[3.21,0.2],[3.32,-0.3],[3.4,0.04],[3.52,-0.59],[3.66,0.25],[3.78,-0.1],[3.9,0.28],[4.0,-0.05],[4.07,0.12],[4.18,-0.17],[4.3,-0.06],[4.38,-0.16],[4.53,0.4],[4.66,-0.23],[4.87,0.27],[4.98,-0.07],[5.07,0.0],[5.14,-0.1],[5.23,0.1],[5.32,-0.03],[5.4,0.05],[5.48,-0.02],[5.57,0.16],[5.68,-0.03],[5.77,-0.02],[5.85,-0.05],[5.92,0.07],[6.0,-0.15],[6.12,0.1],[6.25,0.0],[6.36,0.15],[6.45,-0.02],[6.55,0.08],[6.63,-0.03],[6.72,0.2],[6.83,-0.12],[6.9,-0.04],[6.99,-0.13],[7.08,-0.05],[7.15,-0.1],[7.28,0.05],[7.42,0.25],[7.55,0.15],[7.72,0.42],[7.85,0.18],[7.95,0.13],[8.02,0.2],[8.15,0.02],[8.22,0.08],[8.27,0.02],[8.38,0.18],[8.52,0.05],[8.63,0.32],[8.76,-0.03],[8.83,0.08],[8.9,-0.13],[9.0,0.18],[9.17,-0.03],[9.32,0.45],[9.42,0.22],[9.5,0.34],[9.57,0.16],[9.65,0.28],[9.73,0.05],[9.83,0.26],[9.95,-0.05],[10.05,0.08],[10.15,0.16],[10.23,0.05],[10.3,0.12],[10.4,-0.06],[10.48,0.1],[10.58,-0.46],[10.68,0.0],[10.78,-0.25],[10.88,0.25],[10.98,-0.12],[11.05,-0.08],[11.13,-0.15],[11.22,0.1],[11.35,-0.25],[11.48,-0.12],[11.6,0.0],[11.72,-0.42],[11.82,0.2],[11.94,-0.6],[12.05,0.1],[12.18,-0.2],[12.3,-0.15],[12.42,0.0],[12.5,0.33],[12.62,-0.3],[12.72,0.3],[12.82,-0.43],[12.92,-0.1],[12.96,-0.27]];
// 10 Bergen Point West Reach
const obs10=[[1,-0.28],[1.05,-0.25],[1.1,-0.38],[1.2,-0.84],[1.3,-0.3],[1.36,-0.22],[1.43,-0.26],[1.55,-0.05],[1.65,-0.2],[1.72,-0.05],[1.85,-0.35],[1.95,-0.02],[2.08,-0.36],[2.18,-0.15],[2.27,-0.2],[2.35,-0.16],[2.43,-0.25],[2.52,-0.13],[2.6,-0.17],[2.65,-0.1],[2.72,-0.2],[2.8,-0.1],[2.95,-0.05],[3.1,0.45],[3.2,0.58],[3.3,-0.2],[3.38,0.12],[3.5,-0.45],[3.62,0.2],[3.72,-0.02],[3.83,0.18],[3.95,-0.12],[4.03,-0.03],[4.15,-0.2],[4.25,-0.05],[4.35,-0.15],[4.5,0.32],[4.63,-0.18],[4.82,0.12],[4.97,-0.11],[5.07,-0.07],[5.13,-0.1],[5.25,0.0],[5.35,0.02],[5.45,0.0],[5.55,0.1],[5.65,0.0],[5.75,0.03],[5.82,-0.02],[5.9,0.1],[6.0,0.0],[6.12,0.33],[6.25,0.0],[6.33,0.05],[6.42,0.0],[6.5,0.03],[6.55,-0.03],[6.65,0.05],[6.75,0.15],[6.85,0.05],[6.95,0.03],[7.1,-0.05],[7.2,-0.08],[7.3,-0.06],[7.45,0.03],[7.6,0.05],[7.75,0.2],[7.88,0.0],[8.0,0.02],[8.15,0.05],[8.3,0.12],[8.43,0.1],[8.55,0.06],[8.65,0.25],[8.78,0.0],[8.88,0.03],[8.95,-0.05],[9.03,0.12],[9.17,-0.03],[9.32,0.36],[9.43,0.15],[9.52,0.13],[9.6,0.05],[9.68,0.25],[9.77,0.0],[9.85,0.31],[9.98,0.0],[10.05,0.05],[10.12,0.02],[10.2,0.22],[10.28,0.0],[10.38,0.23],[10.48,-0.07],[10.58,-0.3],[10.67,-0.05],[10.75,-0.2],[10.88,0.25],[10.98,-0.08],[11.05,-0.05],[11.15,-0.12],[11.25,0.07],[11.37,-0.2],[11.5,-0.1],[11.6,0.07],[11.7,-0.25],[11.82,0.38],[11.93,-0.12],[12.03,0.27],[12.13,-0.05],[12.22,-0.1],[12.35,0.05],[12.45,-0.02],[12.55,0.2],[12.63,-0.1],[12.72,0.18],[12.82,-0.25],[12.9,0.1],[12.96,-0.25]];
const mod10=[[1,-0.4],[1.08,-0.12],[1.2,-0.82],[1.3,-0.18],[1.4,-0.08],[1.5,0.03],[1.6,-0.23],[1.73,0.07],[1.83,-0.27],[1.94,0.2],[2.05,-0.22],[2.15,-0.05],[2.25,-0.1],[2.33,-0.05],[2.45,-0.18],[2.55,-0.1],[2.62,-0.17],[2.7,-0.1],[2.8,-0.14],[2.92,0.03],[3.0,-0.14],[3.1,0.23],[3.17,0.02],[3.23,0.28],[3.32,-0.22],[3.42,0.05],[3.52,-0.49],[3.66,0.23],[3.75,0.0],[3.86,0.26],[3.97,-0.05],[4.05,0.12],[4.17,-0.16],[4.27,-0.07],[4.37,-0.16],[4.52,0.44],[4.65,-0.18],[4.85,0.27],[4.97,-0.02],[5.05,-0.02],[5.12,-0.05],[5.25,0.05],[5.35,0.0],[5.43,0.02],[5.5,-0.04],[5.58,0.07],[5.7,-0.04],[5.8,-0.04],[5.88,0.03],[5.98,-0.19],[6.1,0.1],[6.25,-0.03],[6.35,0.08],[6.45,-0.04],[6.55,0.05],[6.62,-0.05],[6.72,0.12],[6.82,-0.12],[6.9,-0.08],[6.98,-0.12],[7.05,-0.08],[7.13,-0.12],[7.28,0.0],[7.45,0.17],[7.58,0.1],[7.72,0.31],[7.85,0.12],[7.95,0.08],[8.03,0.15],[8.15,0.05],[8.25,0.07],[8.35,0.06],[8.43,0.16],[8.55,0.09],[8.65,0.29],[8.77,0.0],[8.87,0.04],[8.95,-0.08],[9.03,0.1],[9.18,-0.03],[9.32,0.3],[9.43,0.15],[9.52,0.2],[9.6,0.12],[9.67,0.2],[9.77,-0.02],[9.85,0.14],[9.97,-0.07],[10.05,0.05],[10.13,0.05],[10.2,0.13],[10.28,0.0],[10.35,0.08],[10.43,-0.02],[10.5,0.08],[10.58,-0.4],[10.7,0.07],[10.78,-0.2],[10.88,0.25],[10.98,-0.12],[11.1,-0.13],[11.2,0.0],[11.32,-0.2],[11.45,-0.1],[11.58,0.05],[11.7,-0.37],[11.8,0.25],[11.92,-0.39],[12.02,0.15],[12.13,-0.12],[12.25,-0.15],[12.38,0.05],[12.5,0.33],[12.6,-0.28],[12.7,0.3],[12.82,-0.4],[12.92,0.0],[12.96,-0.3]];
// 11 Turkey Point Hudson River NERRS
const obs11=[[1.3,-0.2],[1.38,-0.15],[1.45,0.02],[1.52,0.07],[1.6,-0.23],[1.72,-0.23],[1.8,-0.3],[1.88,-0.2],[1.97,0.05],[2.08,-0.3],[2.15,-0.2],[2.25,-0.33],[2.35,-0.17],[2.42,-0.27],[2.52,-0.05],[2.6,-0.1],[2.68,-0.05],[2.77,-0.1],[2.88,0.1],[2.97,0.05],[3.08,0.2],[3.18,0.55],[3.3,-0.27],[3.4,0.06],[3.52,-0.41],[3.65,0.08],[3.75,-0.05],[3.88,0.16],[3.98,0.05],[4.05,0.12],[4.17,-0.16],[4.3,-0.1],[4.4,-0.12],[4.52,0.4],[4.65,-0.2],[4.8,0.0],[4.9,0.2],[5.0,-0.05],[5.1,0.02],[5.18,-0.09],[5.3,-0.05],[5.42,0.05],[5.5,0.09],[5.63,-0.05],[5.75,-0.04],[5.85,-0.05],[5.93,0.03],[6.0,-0.03],[6.08,0.0],[6.15,0.24],[6.28,-0.08],[6.35,0.05],[6.45,-0.06],[6.55,0.02],[6.63,-0.07],[6.73,0.06],[6.82,-0.05],[6.9,0.06],[7.0,-0.04],[7.08,-0.05],[7.15,-0.17],[7.28,-0.12],[7.45,-0.02],[7.55,-0.04],[7.62,0.05],[7.75,0.19],[7.85,0.05],[7.95,-0.03],[8.05,-0.03],[8.15,0.02],[8.3,0.02],[8.45,0.12],[8.55,0.03],[8.65,0.14],[8.75,-0.02],[8.85,0.0],[8.95,-0.04],[9.02,0.05],[9.15,-0.05],[9.3,0.24],[9.4,0.1],[9.5,0.03],[9.6,0.12],[9.68,0.0],[9.78,0.1],[9.85,0.27],[9.95,0.05],[10.1,0.15],[10.2,0.05],[10.35,0.22],[10.45,0.06],[10.58,-0.34],[10.68,-0.05],[10.77,-0.22],[10.87,0.15],[10.95,-0.03],[11.02,0.06],[11.08,0.0],[11.2,0.2],[11.35,-0.2],[11.5,-0.1],[11.62,0.05],[11.72,-0.25],[11.85,0.41],[11.93,-0.05],[12.05,0.25],[12.18,-0.05],[12.25,-0.1],[12.33,-0.18],[12.48,-0.18],[12.55,-0.3],[12.63,-0.1],[12.7,0.38],[12.8,-0.1],[12.9,0.07],[12.96,-0.18]];
const mod11=[[1,-0.43],[1.07,-0.17],[1.2,-0.78],[1.3,-0.2],[1.42,0.0],[1.5,0.09],[1.6,0.05],[1.65,-0.16],[1.75,0.09],[1.85,-0.17],[1.95,0.22],[2.06,-0.13],[2.15,-0.07],[2.25,-0.16],[2.33,-0.09],[2.43,-0.22],[2.52,-0.05],[2.6,-0.13],[2.7,0.05],[2.78,0.0],[2.88,0.16],[2.95,0.05],[3.05,0.13],[3.15,0.02],[3.23,0.31],[3.35,-0.22],[3.43,0.05],[3.53,-0.45],[3.68,0.13],[3.78,-0.1],[3.88,0.27],[3.97,0.1],[4.05,0.25],[4.2,-0.1],[4.3,-0.12],[4.42,-0.08],[4.53,0.51],[4.67,-0.14],[4.88,0.41],[5.0,0.0],[5.08,0.15],[5.2,-0.05],[5.3,0.02],[5.38,-0.07],[5.48,0.0],[5.58,0.03],[5.7,-0.05],[5.8,-0.06],[5.9,0.0],[6.0,-0.24],[6.15,0.0],[6.27,-0.12],[6.37,0.05],[6.47,-0.07],[6.57,0.02],[6.65,-0.08],[6.75,0.06],[6.85,-0.19],[6.93,-0.1],[7.0,-0.18],[7.08,-0.1],[7.17,-0.21],[7.3,-0.06],[7.45,0.1],[7.55,0.01],[7.62,0.05],[7.75,0.27],[7.88,0.1],[7.98,0.05],[8.05,0.1],[8.15,0.05],[8.3,0.0],[8.45,0.15],[8.55,0.07],[8.65,0.24],[8.77,-0.04],[8.85,-0.02],[8.95,-0.13],[9.02,0.0],[9.18,-0.12],[9.35,0.25],[9.45,0.12],[9.55,0.13],[9.62,0.18],[9.72,-0.08],[9.82,0.18],[9.9,0.05],[10.02,0.04],[10.15,0.19],[10.25,0.03],[10.32,0.1],[10.4,0.02],[10.5,0.12],[10.58,-0.38],[10.7,0.01],[10.78,-0.27],[10.88,0.2],[10.98,-0.13],[11.07,0.01],[11.2,0.2],[11.35,-0.15],[11.5,-0.1],[11.62,0.08],[11.72,-0.33],[11.85,0.4],[11.95,-0.2],[12.05,0.25],[12.2,-0.05],[12.3,-0.1],[12.4,0.02],[12.47,-0.02],[12.55,0.23],[12.63,-0.33],[12.72,0.48],[12.85,-0.23],[12.92,-0.05],[12.96,-0.27]];
// 12 The Battery
const obs12=[[1,-0.58],[1.05,-0.55],[1.1,-0.5],[1.2,-1.08],[1.3,-0.55],[1.35,-0.48],[1.42,-0.54],[1.55,-0.35],[1.65,-0.47],[1.73,-0.37],[1.85,-0.63],[1.97,-0.2],[2.08,-0.62],[2.18,-0.48],[2.25,-0.52],[2.33,-0.45],[2.42,-0.55],[2.52,-0.4],[2.62,-0.45],[2.72,-0.52],[2.8,-0.35],[2.9,-0.28],[2.97,-0.4],[3.05,0.1],[3.18,0.27],[3.3,-0.5],[3.4,-0.15],[3.52,-0.72],[3.67,-0.08],[3.8,-0.25],[3.87,-0.12],[4.0,-0.42],[4.05,-0.3],[4.17,-0.48],[4.27,-0.35],[4.37,-0.42],[4.52,0.02],[4.65,-0.48],[4.83,-0.2],[4.95,-0.4],[5.05,-0.35],[5.13,-0.37],[5.25,-0.3],[5.35,-0.32],[5.45,-0.28],[5.55,-0.2],[5.65,-0.3],[5.75,-0.29],[5.85,-0.32],[5.95,-0.2],[6.02,-0.26],[6.13,0.03],[6.25,-0.25],[6.35,-0.24],[6.45,-0.28],[6.55,-0.25],[6.62,-0.32],[6.72,-0.14],[6.85,-0.26],[6.95,-0.25],[7.05,-0.28],[7.18,-0.35],[7.3,-0.33],[7.45,-0.25],[7.6,-0.25],[7.7,-0.09],[7.82,-0.23],[7.95,-0.26],[8.05,-0.2],[8.15,-0.3],[8.3,-0.25],[8.42,-0.15],[8.55,-0.27],[8.65,-0.03],[8.77,-0.27],[8.87,-0.25],[8.95,-0.3],[9.03,-0.2],[9.17,-0.28],[9.3,0.07],[9.42,-0.2],[9.5,-0.18],[9.58,-0.25],[9.65,0.0],[9.73,-0.15],[9.83,0.0],[9.95,-0.3],[10.05,-0.18],[10.12,-0.23],[10.2,-0.08],[10.3,-0.25],[10.4,-0.07],[10.5,-0.3],[10.6,-0.57],[10.68,-0.28],[10.78,-0.47],[10.88,-0.05],[11.0,-0.3],[11.05,-0.27],[11.15,-0.42],[11.25,-0.22],[11.38,-0.5],[11.5,-0.4],[11.6,-0.2],[11.7,-0.55],[11.83,0.07],[11.93,-0.4],[12.03,-0.05],[12.13,-0.35],[12.25,-0.43],[12.35,-0.25],[12.45,-0.33],[12.55,-0.1],[12.63,-0.47],[12.72,-0.15],[12.82,-0.55],[12.9,-0.25],[12.96,-0.55]];
const mod12=[[1,-0.72],[1.07,-0.43],[1.2,-1.1],[1.3,-0.45],[1.37,-0.38],[1.45,-0.36],[1.53,-0.27],[1.63,-0.53],[1.73,-0.24],[1.85,-0.57],[1.95,-0.11],[2.05,-0.53],[2.15,-0.37],[2.25,-0.44],[2.32,-0.36],[2.42,-0.49],[2.5,-0.4],[2.6,-0.47],[2.65,-0.4],[2.75,-0.5],[2.85,-0.28],[2.95,-0.44],[3.05,-0.1],[3.15,-0.31],[3.23,-0.05],[3.33,-0.54],[3.42,-0.25],[3.53,-0.79],[3.68,-0.09],[3.78,-0.35],[3.88,-0.06],[3.98,-0.4],[4.05,-0.21],[4.17,-0.42],[4.27,-0.37],[4.37,-0.42],[4.52,0.11],[4.65,-0.47],[4.87,-0.06],[4.98,-0.35],[5.08,-0.31],[5.15,-0.37],[5.25,-0.26],[5.35,-0.32],[5.45,-0.35],[5.55,-0.27],[5.68,-0.36],[5.8,-0.35],[5.9,-0.3],[6.0,-0.51],[6.15,-0.23],[6.28,-0.35],[6.38,-0.24],[6.47,-0.33],[6.55,-0.25],[6.63,-0.33],[6.72,-0.21],[6.85,-0.44],[6.93,-0.41],[7.0,-0.43],[7.1,-0.38],[7.18,-0.43],[7.3,-0.33],[7.4,-0.15],[7.5,-0.17],[7.6,-0.28],[7.72,-0.02],[7.85,-0.22],[7.95,-0.24],[8.02,-0.17],[8.12,-0.26],[8.25,-0.25],[8.4,-0.17],[8.52,-0.27],[8.65,-0.04],[8.77,-0.3],[8.87,-0.28],[8.95,-0.39],[9.05,-0.24],[9.2,-0.35],[9.33,-0.04],[9.45,-0.17],[9.53,-0.13],[9.6,-0.2],[9.65,-0.1],[9.75,-0.28],[9.83,-0.13],[9.95,-0.38],[10.05,-0.28],[10.13,-0.2],[10.2,-0.22],[10.28,-0.2],[10.37,-0.3],[10.45,-0.25],[10.5,-0.23],[10.58,-0.68],[10.7,-0.25],[10.78,-0.53],[10.88,-0.1],[10.98,-0.45],[11.07,-0.38],[11.15,-0.45],[11.28,-0.32],[11.4,-0.52],[11.55,-0.4],[11.63,-0.35],[11.72,-0.7],[11.82,-0.08],[11.92,-0.7],[12.03,-0.2],[12.15,-0.45],[12.27,-0.48],[12.38,-0.3],[12.5,-0.02],[12.6,-0.6],[12.7,-0.03],[12.8,-0.72],[12.9,-0.4],[12.96,-0.62]];
// 13 Kings Point
const obs13=[[1,-0.55],[1.05,-0.48],[1.1,-0.55],[1.2,-1.12],[1.3,-0.5],[1.35,-0.47],[1.42,-0.54],[1.55,-0.28],[1.63,-0.48],[1.73,-0.35],[1.85,-0.66],[1.97,-0.2],[2.08,-0.68],[2.17,-0.45],[2.25,-0.53],[2.35,-0.45],[2.42,-0.57],[2.52,-0.4],[2.62,-0.42],[2.7,-0.58],[2.8,-0.3],[2.92,-0.49],[3.05,0.2],[3.12,0.2],[3.2,0.2],[3.3,-0.52],[3.4,-0.2],[3.52,-0.77],[3.65,-0.3],[3.72,-0.12],[3.82,-0.3],[3.9,-0.18],[3.98,-0.46],[4.05,-0.4],[4.17,-0.51],[4.28,-0.34],[4.37,-0.48],[4.5,0.04],[4.63,-0.5],[4.8,-0.2],[4.93,-0.43],[5.0,-0.38],[5.08,-0.42],[5.2,-0.34],[5.3,-0.38],[5.45,-0.32],[5.55,-0.25],[5.65,-0.32],[5.75,-0.33],[5.85,-0.25],[5.97,-0.32],[6.12,0.01],[6.25,-0.33],[6.35,-0.29],[6.45,-0.36],[6.55,-0.28],[6.65,-0.33],[6.73,-0.17],[6.85,-0.3],[6.95,-0.28],[7.05,-0.35],[7.18,-0.42],[7.3,-0.33],[7.45,-0.27],[7.55,-0.33],[7.7,-0.25],[7.82,-0.3],[8.0,-0.3],[8.1,-0.31],[8.28,-0.25],[8.4,-0.2],[8.5,-0.3],[8.63,-0.12],[8.75,-0.3],[8.88,-0.34],[8.98,-0.2],[9.1,-0.3],[9.17,-0.32],[9.3,0.04],[9.42,-0.2],[9.55,-0.26],[9.62,-0.05],[9.72,-0.2],[9.82,-0.03],[9.93,-0.25],[10.05,-0.2],[10.12,-0.13],[10.23,-0.27],[10.35,-0.1],[10.45,-0.27],[10.58,-0.62],[10.68,-0.4],[10.78,-0.5],[10.88,0.0],[10.98,-0.33],[11.05,-0.3],[11.13,-0.45],[11.25,-0.3],[11.37,-0.52],[11.47,-0.3],[11.55,-0.32],[11.65,-0.23],[11.73,-0.6],[11.83,0.12],[11.93,-0.35],[12.03,-0.07],[12.15,-0.3],[12.27,-0.45],[12.38,-0.27],[12.47,-0.32],[12.55,-0.12],[12.65,-0.45],[12.72,-0.15],[12.82,-0.58],[12.9,-0.28],[12.96,-0.55]];
const mod13=[[1,-0.68],[1.07,-0.34],[1.2,-1.13],[1.3,-0.5],[1.37,-0.3],[1.45,-0.28],[1.52,-0.17],[1.62,-0.5],[1.73,-0.15],[1.83,-0.54],[1.94,-0.05],[2.05,-0.5],[2.15,-0.29],[2.25,-0.37],[2.32,-0.3],[2.43,-0.44],[2.5,-0.36],[2.6,-0.42],[2.65,-0.36],[2.75,-0.45],[2.83,-0.23],[2.95,-0.44],[3.05,0.04],[3.15,-0.26],[3.23,0.01],[3.32,-0.54],[3.42,-0.2],[3.52,-0.8],[3.68,-0.02],[3.78,-0.29],[3.88,-0.03],[3.98,-0.32],[4.05,-0.17],[4.17,-0.42],[4.28,-0.34],[4.37,-0.43],[4.52,0.2],[4.65,-0.45],[4.87,-0.01],[4.98,-0.3],[5.05,-0.29],[5.15,-0.36],[5.25,-0.25],[5.33,-0.3],[5.43,-0.3],[5.5,-0.35],[5.6,-0.24],[5.7,-0.33],[5.8,-0.33],[5.9,-0.23],[6.0,-0.48],[6.12,-0.2],[6.25,-0.33],[6.35,-0.24],[6.45,-0.32],[6.55,-0.24],[6.63,-0.32],[6.72,-0.17],[6.85,-0.41],[6.95,-0.37],[7.05,-0.35],[7.17,-0.4],[7.28,-0.3],[7.4,-0.1],[7.5,-0.12],[7.6,-0.22],[7.72,0.01],[7.85,-0.13],[7.95,-0.15],[8.02,-0.2],[8.1,-0.18],[8.2,-0.23],[8.28,-0.25],[8.42,-0.08],[8.55,-0.2],[8.65,0.0],[8.78,-0.27],[8.88,-0.36],[8.98,-0.2],[9.1,-0.3],[9.18,-0.31],[9.32,0.0],[9.45,-0.16],[9.55,-0.13],[9.62,-0.1],[9.73,-0.3],[9.82,-0.1],[9.97,-0.37],[10.05,-0.27],[10.15,-0.15],[10.25,-0.3],[10.33,-0.23],[10.4,-0.28],[10.5,-0.25],[10.58,-0.7],[10.68,-0.28],[10.78,-0.48],[10.88,0.0],[10.98,-0.45],[11.05,-0.38],[11.13,-0.45],[11.25,-0.3],[11.37,-0.52],[11.47,-0.35],[11.55,-0.4],[11.65,-0.25],[11.73,-0.75],[11.83,0.02],[11.93,-0.72],[12.05,-0.2],[12.15,-0.35],[12.27,-0.47],[12.38,-0.27],[12.5,0.02],[12.6,-0.63],[12.7,0.0],[12.82,-0.74],[12.9,-0.4],[12.96,-0.55]];
// 14 Bridgeport
const obs14=[[1,-0.48],[1.05,-0.41],[1.1,-0.48],[1.2,-1.03],[1.3,-0.48],[1.36,-0.43],[1.43,-0.5],[1.55,-0.27],[1.63,-0.45],[1.72,-0.31],[1.85,-0.62],[1.97,-0.17],[2.07,-0.6],[2.17,-0.41],[2.25,-0.5],[2.35,-0.4],[2.43,-0.54],[2.52,-0.37],[2.6,-0.4],[2.68,-0.47],[2.72,-0.54],[2.8,-0.27],[2.92,-0.44],[3.05,0.2],[3.2,0.21],[3.3,-0.45],[3.4,-0.18],[3.5,-0.69],[3.65,-0.2],[3.72,-0.12],[3.82,-0.3],[3.9,-0.17],[3.98,-0.42],[4.05,-0.33],[4.17,-0.46],[4.28,-0.34],[4.37,-0.43],[4.5,-0.04],[4.63,-0.46],[4.8,-0.27],[4.95,-0.38],[5.02,-0.35],[5.13,-0.38],[5.25,-0.33],[5.35,-0.3],[5.45,-0.3],[5.55,-0.27],[5.65,-0.33],[5.75,-0.33],[5.85,-0.29],[5.92,-0.23],[6.0,-0.28],[6.12,0.01],[6.25,-0.28],[6.35,-0.27],[6.45,-0.32],[6.55,-0.28],[6.62,-0.33],[6.72,-0.16],[6.85,-0.26],[6.95,-0.25],[7.05,-0.24],[7.18,-0.35],[7.28,-0.33],[7.45,-0.24],[7.55,-0.28],[7.65,-0.18],[7.8,-0.26],[7.9,-0.26],[8.0,-0.24],[8.12,-0.28],[8.3,-0.2],[8.42,-0.17],[8.55,-0.3],[8.67,-0.08],[8.8,-0.28],[8.92,-0.28],[9.0,-0.2],[9.12,-0.3],[9.2,-0.28],[9.32,-0.02],[9.43,-0.2],[9.52,-0.22],[9.63,-0.05],[9.72,-0.2],[9.82,-0.04],[9.93,-0.24],[10.05,-0.17],[10.12,-0.23],[10.2,-0.1],[10.3,-0.25],[10.4,-0.07],[10.5,-0.3],[10.6,-0.56],[10.68,-0.3],[10.78,-0.44],[10.88,-0.03],[10.98,-0.3],[11.05,-0.26],[11.13,-0.4],[11.25,-0.22],[11.37,-0.48],[11.48,-0.4],[11.6,-0.22],[11.72,-0.55],[11.83,0.13],[11.93,-0.32],[12.03,-0.05],[12.13,-0.33],[12.25,-0.42],[12.37,-0.25],[12.45,-0.3],[12.55,-0.12],[12.63,-0.43],[12.72,-0.12],[12.82,-0.52],[12.9,-0.22],[12.96,-0.5]];
const mod14=[[1,-0.65],[1.08,-0.32],[1.2,-1.02],[1.3,-0.42],[1.37,-0.3],[1.45,-0.29],[1.52,-0.22],[1.62,-0.46],[1.73,-0.17],[1.83,-0.52],[1.94,-0.09],[2.05,-0.49],[2.15,-0.3],[2.25,-0.39],[2.32,-0.31],[2.43,-0.46],[2.5,-0.37],[2.6,-0.43],[2.65,-0.37],[2.75,-0.46],[2.83,-0.26],[2.95,-0.44],[3.07,-0.03],[3.15,-0.3],[3.23,-0.03],[3.33,-0.53],[3.42,-0.2],[3.52,-0.76],[3.67,-0.07],[3.77,-0.33],[3.87,-0.05],[3.97,-0.37],[4.05,-0.19],[4.17,-0.42],[4.27,-0.37],[4.37,-0.41],[4.52,0.09],[4.65,-0.46],[4.87,-0.05],[4.98,-0.3],[5.07,-0.32],[5.15,-0.38],[5.25,-0.29],[5.35,-0.33],[5.45,-0.36],[5.55,-0.29],[5.68,-0.35],[5.8,-0.35],[5.9,-0.29],[6.0,-0.51],[6.15,-0.23],[6.28,-0.35],[6.38,-0.26],[6.47,-0.33],[6.55,-0.26],[6.63,-0.34],[6.72,-0.23],[6.85,-0.44],[6.95,-0.39],[7.05,-0.38],[7.17,-0.42],[7.28,-0.32],[7.35,-0.13],[7.45,-0.13],[7.55,-0.25],[7.72,-0.04],[7.85,-0.17],[7.95,-0.15],[8.02,-0.2],[8.12,-0.23],[8.25,-0.24],[8.4,-0.12],[8.52,-0.24],[8.67,-0.04],[8.8,-0.3],[8.9,-0.35],[9.0,-0.27],[9.12,-0.32],[9.2,-0.34],[9.33,-0.06],[9.45,-0.18],[9.55,-0.14],[9.63,-0.13],[9.73,-0.3],[9.83,-0.1],[9.97,-0.39],[10.05,-0.28],[10.15,-0.2],[10.25,-0.32],[10.33,-0.25],[10.42,-0.33],[10.5,-0.24],[10.58,-0.65],[10.68,-0.23],[10.78,-0.53],[10.88,-0.08],[10.98,-0.43],[11.05,-0.38],[11.13,-0.48],[11.25,-0.32],[11.37,-0.53],[11.48,-0.45],[11.6,-0.26],[11.72,-0.76],[11.83,-0.05],[11.93,-0.7],[12.03,-0.23],[12.13,-0.45],[12.25,-0.5],[12.37,-0.3],[12.5,-0.06],[12.6,-0.64],[12.7,-0.05],[12.82,-0.75],[12.9,-0.45],[12.96,-0.55]];
// 15 New Haven
const obs15=[[1,-0.23],[1.06,-0.15],[1.1,-0.25],[1.2,-0.74],[1.3,-0.22],[1.36,-0.14],[1.43,-0.22],[1.55,-0.05],[1.63,-0.16],[1.72,0.12],[1.85,-0.35],[1.97,0.1],[2.07,-0.3],[2.15,-0.15],[2.25,-0.22],[2.33,-0.1],[2.42,-0.27],[2.52,-0.07],[2.62,-0.15],[2.7,-0.1],[2.78,-0.26],[2.88,0.02],[2.96,-0.12],[3.07,0.48],[3.2,0.48],[3.3,-0.15],[3.4,0.1],[3.52,-0.37],[3.65,0.05],[3.75,-0.03],[3.88,0.17],[3.98,-0.12],[4.05,0.1],[4.17,-0.17],[4.28,-0.07],[4.38,-0.12],[4.52,0.22],[4.65,-0.17],[4.8,0.0],[4.9,0.08],[5.0,-0.08],[5.08,-0.04],[5.2,-0.08],[5.3,-0.03],[5.4,-0.04],[5.5,0.03],[5.63,-0.05],[5.8,-0.02],[5.9,0.05],[6.0,0.0],[6.12,0.3],[6.25,0.0],[6.35,0.05],[6.45,-0.03],[6.55,0.04],[6.62,-0.02],[6.72,0.13],[6.85,0.03],[6.95,0.05],[7.05,0.03],[7.18,-0.1],[7.3,0.0],[7.45,0.03],[7.6,0.08],[7.7,0.13],[7.8,0.03],[7.9,0.0],[8.0,-0.02],[8.1,0.05],[8.2,0.03],[8.35,0.13],[8.5,0.15],[8.6,0.05],[8.68,0.22],[8.8,0.0],[8.95,0.05],[9.02,0.1],[9.15,-0.05],[9.3,0.27],[9.4,0.15],[9.5,0.1],[9.58,0.1],[9.65,0.27],[9.75,0.05],[9.83,0.25],[9.95,0.0],[10.05,0.08],[10.12,0.05],[10.2,0.16],[10.3,0.0],[10.38,0.24],[10.5,0.0],[10.6,-0.22],[10.7,0.08],[10.78,-0.15],[10.87,0.25],[10.97,-0.17],[11.08,0.08],[11.15,-0.05],[11.22,0.08],[11.38,-0.17],[11.5,-0.1],[11.6,0.07],[11.72,-0.22],[11.85,0.41],[11.95,-0.02],[12.05,0.22],[12.15,-0.05],[12.28,-0.03],[12.38,0.0],[12.48,-0.05],[12.57,0.15],[12.67,-0.18],[12.72,0.18],[12.85,-0.23],[12.92,0.08],[12.96,-0.2]];
const mod15=[[1,-0.37],[1.07,-0.02],[1.2,-0.72],[1.3,-0.1],[1.4,0.0],[1.5,0.03],[1.55,0.06],[1.65,-0.17],[1.73,0.13],[1.85,-0.25],[1.95,0.21],[2.05,-0.17],[2.14,0.0],[2.22,-0.1],[2.3,0.0],[2.4,-0.17],[2.5,-0.06],[2.6,-0.1],[2.65,-0.08],[2.75,-0.18],[2.85,0.02],[2.95,-0.12],[3.05,0.25],[3.15,0.0],[3.23,0.26],[3.32,-0.22],[3.42,0.05],[3.52,-0.43],[3.67,0.22],[3.78,-0.03],[3.88,0.25],[3.98,-0.05],[4.05,0.12],[4.17,-0.1],[4.27,-0.1],[4.37,-0.1],[4.52,0.36],[4.65,-0.15],[4.86,0.25],[4.97,0.0],[5.05,0.02],[5.15,-0.05],[5.25,0.02],[5.35,-0.04],[5.45,0.0],[5.55,-0.04],[5.63,0.0],[5.75,-0.05],[5.85,-0.04],[5.93,-0.02],[6.0,-0.21],[6.12,0.05],[6.25,-0.04],[6.35,0.03],[6.45,-0.02],[6.55,0.05],[6.63,-0.03],[6.72,0.08],[6.85,-0.14],[6.93,-0.1],[7.0,-0.11],[7.08,-0.1],[7.18,-0.12],[7.32,0.0],[7.45,0.17],[7.55,0.18],[7.62,0.06],[7.72,0.24],[7.85,0.11],[7.95,0.15],[8.05,0.08],[8.15,0.09],[8.25,0.06],[8.4,0.18],[8.5,0.11],[8.65,0.26],[8.77,0.0],[8.87,-0.05],[8.95,0.02],[9.05,-0.05],[9.12,-0.04],[9.32,0.22],[9.43,0.12],[9.52,0.15],[9.6,0.18],[9.72,-0.05],[9.82,0.14],[9.95,-0.1],[10.05,0.07],[10.15,0.12],[10.27,-0.05],[10.35,0.07],[10.45,-0.02],[10.5,0.05],[10.58,-0.35],[10.7,0.05],[10.78,-0.2],[10.88,0.23],[10.98,-0.1],[11.05,-0.13],[11.15,0.0],[11.25,-0.15],[11.4,-0.2],[11.55,-0.05],[11.65,0.05],[11.75,-0.42],[11.85,0.28],[11.95,-0.35],[12.05,0.2],[12.18,-0.1],[12.3,-0.17],[12.4,-0.05],[12.5,0.25],[12.6,-0.3],[12.7,0.28],[12.8,-0.42],[12.9,-0.12],[12.96,-0.2]];
// 16 New London
const obs16=[[1,-0.5],[1.05,-0.45],[1.1,-0.38],[1.2,-0.9],[1.3,-0.5],[1.37,-0.44],[1.43,-0.46],[1.53,-0.27],[1.62,-0.45],[1.7,-0.3],[1.8,-0.4],[1.87,-0.6],[1.97,-0.18],[2.07,-0.55],[2.17,-0.43],[2.25,-0.5],[2.35,-0.4],[2.45,-0.53],[2.52,-0.35],[2.6,-0.4],[2.7,-0.48],[2.78,-0.53],[2.88,-0.28],[2.97,-0.4],[3.07,0.24],[3.18,0.22],[3.32,-0.4],[3.42,-0.15],[3.52,-0.58],[3.7,-0.12],[3.8,-0.3],[3.9,-0.17],[4.0,-0.42],[4.07,-0.33],[4.17,-0.38],[4.27,-0.33],[4.4,-0.38],[4.52,-0.12],[4.65,-0.42],[4.85,-0.2],[4.97,-0.35],[5.05,-0.32],[5.13,-0.35],[5.25,-0.3],[5.35,-0.32],[5.5,-0.27],[5.6,-0.33],[5.75,-0.28],[5.85,-0.28],[5.95,-0.24],[6.02,-0.3],[6.15,-0.02],[6.28,-0.3],[6.38,-0.26],[6.5,-0.3],[6.6,-0.28],[6.7,-0.33],[6.78,-0.18],[6.88,-0.25],[7.0,-0.23],[7.1,-0.3],[7.22,-0.37],[7.35,-0.26],[7.5,-0.22],[7.65,-0.28],[7.75,-0.2],[7.88,-0.27],[8.0,-0.28],[8.12,-0.25],[8.25,-0.27],[8.4,-0.2],[8.55,-0.21],[8.68,-0.12],[8.8,-0.3],[8.9,-0.25],[8.97,-0.23],[9.05,-0.28],[9.2,-0.17],[9.3,-0.08],[9.4,-0.17],[9.5,-0.25],[9.63,-0.05],[9.73,-0.25],[9.83,-0.07],[9.95,-0.27],[10.05,-0.18],[10.12,-0.25],[10.22,-0.12],[10.3,-0.3],[10.4,-0.04],[10.5,-0.28],[10.6,-0.48],[10.68,-0.2],[10.77,-0.42],[10.88,-0.07],[10.98,-0.3],[11.05,-0.24],[11.15,-0.4],[11.25,-0.2],[11.4,-0.45],[11.52,-0.38],[11.62,-0.18],[11.72,-0.5],[11.83,0.11],[11.95,-0.3],[12.05,-0.13],[12.15,-0.38],[12.27,-0.4],[12.37,-0.25],[12.45,-0.32],[12.55,-0.12],[12.65,-0.38],[12.72,-0.11],[12.82,-0.48],[12.9,-0.2],[12.96,-0.5]];
const mod16=[[1,-0.65],[1.07,-0.33],[1.2,-0.9],[1.3,-0.4],[1.37,-0.3],[1.45,-0.27],[1.53,-0.25],[1.63,-0.45],[1.73,-0.2],[1.85,-0.5],[1.95,-0.12],[2.05,-0.45],[2.15,-0.31],[2.25,-0.4],[2.32,-0.3],[2.42,-0.44],[2.5,-0.33],[2.6,-0.43],[2.65,-0.38],[2.75,-0.45],[2.85,-0.28],[2.95,-0.43],[3.07,-0.05],[3.17,-0.28],[3.25,-0.04],[3.33,-0.44],[3.42,-0.17],[3.53,-0.65],[3.7,-0.1],[3.8,-0.37],[3.9,-0.1],[4.0,-0.4],[4.07,-0.22],[4.17,-0.37],[4.3,-0.36],[4.4,-0.38],[4.53,0.0],[4.65,-0.42],[4.87,-0.09],[4.98,-0.32],[5.1,-0.34],[5.18,-0.36],[5.27,-0.28],[5.4,-0.37],[5.5,-0.33],[5.58,-0.36],[5.68,-0.33],[5.78,-0.35],[5.9,-0.31],[6.0,-0.52],[6.15,-0.27],[6.28,-0.35],[6.38,-0.27],[6.48,-0.32],[6.57,-0.27],[6.65,-0.31],[6.73,-0.26],[6.87,-0.47],[6.98,-0.39],[7.08,-0.39],[7.18,-0.43],[7.3,-0.3],[7.4,-0.17],[7.5,-0.16],[7.6,-0.27],[7.72,-0.13],[7.85,-0.22],[7.95,-0.2],[8.02,-0.24],[8.12,-0.21],[8.25,-0.25],[8.4,-0.18],[8.52,-0.2],[8.65,-0.09],[8.77,-0.3],[8.87,-0.3],[8.97,-0.36],[9.05,-0.32],[9.12,-0.35],[9.22,-0.37],[9.33,-0.14],[9.45,-0.23],[9.53,-0.16],[9.6,-0.18],[9.65,-0.13],[9.75,-0.32],[9.83,-0.18],[9.95,-0.38],[10.05,-0.22],[10.13,-0.19],[10.2,-0.22],[10.3,-0.35],[10.37,-0.23],[10.45,-0.28],[10.5,-0.2],[10.58,-0.6],[10.7,-0.19],[10.78,-0.5],[10.88,-0.1],[10.98,-0.42],[11.07,-0.38],[11.15,-0.44],[11.28,-0.27],[11.4,-0.46],[11.55,-0.38],[11.63,-0.25],[11.72,-0.67],[11.82,-0.07],[11.92,-0.57],[12.03,-0.2],[12.15,-0.4],[12.27,-0.46],[12.38,-0.3],[12.5,-0.08],[12.6,-0.56],[12.7,-0.05],[12.8,-0.68],[12.9,-0.3],[12.96,-0.5]];
// 17 Quonset Point
const obs17=[[1,-0.58],[1.05,-0.45],[1.1,-0.5],[1.2,-0.9],[1.3,-0.62],[1.38,-0.5],[1.45,-0.52],[1.55,-0.37],[1.63,-0.45],[1.73,-0.37],[1.85,-0.65],[1.97,-0.27],[2.07,-0.6],[2.17,-0.47],[2.25,-0.55],[2.35,-0.47],[2.45,-0.6],[2.52,-0.4],[2.62,-0.45],[2.7,-0.57],[2.8,-0.36],[2.92,-0.46],[3.05,0.1],[3.2,0.1],[3.3,-0.48],[3.4,-0.27],[3.52,-0.58],[3.65,-0.38],[3.72,-0.2],[3.82,-0.38],[3.9,-0.25],[3.98,-0.48],[4.08,-0.38],[4.17,-0.47],[4.28,-0.37],[4.37,-0.43],[4.5,-0.2],[4.65,-0.51],[4.8,-0.3],[4.95,-0.42],[5.05,-0.4],[5.13,-0.42],[5.25,-0.38],[5.35,-0.4],[5.45,-0.37],[5.55,-0.4],[5.65,-0.34],[5.75,-0.34],[5.85,-0.34],[6.0,-0.33],[6.12,-0.1],[6.25,-0.35],[6.35,-0.33],[6.47,-0.37],[6.55,-0.33],[6.65,-0.33],[6.72,-0.28],[6.85,-0.32],[7.0,-0.28],[7.1,-0.35],[7.2,-0.42],[7.32,-0.35],[7.45,-0.28],[7.55,-0.33],[7.68,-0.3],[7.78,-0.33],[7.9,-0.3],[8.0,-0.35],[8.13,-0.31],[8.3,-0.24],[8.45,-0.3],[8.55,-0.27],[8.63,-0.28],[8.75,-0.33],[8.88,-0.32],[9.0,-0.3],[9.12,-0.34],[9.2,-0.3],[9.3,-0.17],[9.45,-0.3],[9.55,-0.27],[9.65,-0.14],[9.73,-0.3],[9.85,-0.17],[9.95,-0.3],[10.05,-0.26],[10.12,-0.3],[10.22,-0.2],[10.3,-0.35],[10.4,-0.12],[10.5,-0.38],[10.6,-0.5],[10.7,-0.35],[10.78,-0.45],[10.88,-0.17],[10.98,-0.38],[11.05,-0.3],[11.13,-0.45],[11.25,-0.35],[11.37,-0.5],[11.47,-0.4],[11.58,-0.3],[11.73,-0.54],[11.83,0.01],[11.93,-0.3],[12.03,-0.16],[12.15,-0.35],[12.27,-0.45],[12.38,-0.33],[12.47,-0.38],[12.55,-0.25],[12.65,-0.53],[12.72,-0.2],[12.82,-0.55],[12.9,-0.35],[12.96,-0.55]];
const mod17=[[1,-0.6],[1.07,-0.33],[1.2,-0.83],[1.3,-0.45],[1.38,-0.33],[1.45,-0.34],[1.55,-0.3],[1.63,-0.46],[1.73,-0.23],[1.83,-0.5],[1.95,-0.15],[2.05,-0.44],[2.15,-0.32],[2.25,-0.42],[2.32,-0.35],[2.43,-0.5],[2.5,-0.4],[2.6,-0.45],[2.65,-0.41],[2.75,-0.5],[2.83,-0.34],[2.95,-0.46],[3.05,-0.13],[3.15,-0.34],[3.23,-0.08],[3.32,-0.48],[3.42,-0.22],[3.53,-0.64],[3.68,-0.15],[3.78,-0.44],[3.88,-0.12],[3.98,-0.4],[4.05,-0.23],[4.17,-0.4],[4.28,-0.41],[4.37,-0.41],[4.52,-0.06],[4.65,-0.45],[4.87,-0.12],[4.98,-0.3],[5.05,-0.35],[5.15,-0.37],[5.25,-0.32],[5.35,-0.37],[5.45,-0.37],[5.55,-0.35],[5.7,-0.35],[5.8,-0.34],[5.9,-0.35],[6.0,-0.53],[6.12,-0.3],[6.25,-0.38],[6.35,-0.29],[6.45,-0.31],[6.55,-0.28],[6.63,-0.34],[6.72,-0.32],[6.85,-0.47],[6.95,-0.41],[7.05,-0.41],[7.17,-0.44],[7.28,-0.3],[7.35,-0.17],[7.45,-0.17],[7.55,-0.27],[7.65,-0.18],[7.75,-0.23],[7.83,-0.18],[7.95,-0.24],[8.05,-0.2],[8.15,-0.26],[8.28,-0.26],[8.42,-0.2],[8.55,-0.2],[8.65,-0.13],[8.78,-0.33],[8.88,-0.36],[8.98,-0.32],[9.08,-0.34],[9.18,-0.38],[9.32,-0.17],[9.43,-0.25],[9.52,-0.18],[9.6,-0.26],[9.68,-0.19],[9.75,-0.4],[9.82,-0.18],[9.97,-0.45],[10.05,-0.3],[10.15,-0.26],[10.25,-0.35],[10.33,-0.25],[10.4,-0.38],[10.5,-0.25],[10.58,-0.6],[10.68,-0.22],[10.78,-0.51],[10.88,-0.16],[10.98,-0.4],[11.05,-0.38],[11.13,-0.48],[11.25,-0.35],[11.37,-0.52],[11.47,-0.45],[11.58,-0.28],[11.73,-0.7],[11.83,-0.15],[11.93,-0.56],[12.05,-0.25],[12.15,-0.4],[12.27,-0.47],[12.38,-0.35],[12.45,-0.17],[12.58,-0.57],[12.68,-0.1],[12.82,-0.72],[12.9,-0.45],[12.96,-0.57]];
// 18 Providence
const obs18=[[1,-0.55],[1.05,-0.47],[1.1,-0.5],[1.2,-0.87],[1.3,-0.5],[1.37,-0.44],[1.45,-0.48],[1.55,-0.37],[1.63,-0.42],[1.72,-0.33],[1.85,-0.6],[1.97,-0.18],[2.07,-0.54],[2.17,-0.46],[2.25,-0.53],[2.35,-0.43],[2.43,-0.55],[2.55,-0.35],[2.62,-0.43],[2.7,-0.42],[2.78,-0.51],[2.88,-0.33],[2.95,-0.38],[3.05,0.08],[3.18,0.11],[3.3,-0.42],[3.4,-0.22],[3.52,-0.53],[3.65,-0.22],[3.73,-0.4],[3.82,-0.22],[3.95,-0.43],[4.03,-0.37],[4.17,-0.42],[4.27,-0.38],[4.37,-0.38],[4.5,-0.17],[4.65,-0.5],[4.8,-0.27],[4.95,-0.35],[5.02,-0.34],[5.13,-0.37],[5.25,-0.33],[5.33,-0.35],[5.45,-0.3],[5.55,-0.33],[5.65,-0.36],[5.75,-0.3],[5.85,-0.3],[5.95,-0.29],[6.05,-0.25],[6.14,-0.08],[6.27,-0.3],[6.37,-0.26],[6.47,-0.3],[6.57,-0.3],[6.62,-0.27],[6.72,-0.22],[6.85,-0.28],[7.0,-0.3],[7.12,-0.36],[7.22,-0.4],[7.35,-0.3],[7.45,-0.25],[7.55,-0.28],[7.65,-0.2],[7.78,-0.28],[7.9,-0.25],[8.02,-0.27],[8.12,-0.25],[8.25,-0.23],[8.4,-0.27],[8.55,-0.25],[8.67,-0.19],[8.8,-0.3],[8.9,-0.28],[9.02,-0.3],[9.15,-0.27],[9.25,-0.32],[9.35,-0.15],[9.45,-0.3],[9.55,-0.2],[9.67,-0.12],[9.75,-0.3],[9.85,-0.25],[9.92,-0.35],[10.0,-0.3],[10.5,-0.3],[11.0,-0.3],[11.55,-0.3],[11.62,-0.22],[11.7,-0.53],[11.85,0.07],[11.95,-0.28],[12.05,-0.12],[12.15,-0.3],[12.27,-0.43],[12.37,-0.3],[12.47,-0.38],[12.55,-0.25],[12.63,-0.47],[12.72,-0.13],[12.82,-0.52],[12.9,-0.23],[12.96,-0.52]];
const mod18=[[1,-0.58],[1.08,-0.3],[1.2,-0.77],[1.3,-0.42],[1.4,-0.25],[1.47,-0.3],[1.55,-0.27],[1.63,-0.42],[1.73,-0.2],[1.85,-0.5],[1.94,-0.13],[2.05,-0.39],[2.15,-0.3],[2.25,-0.38],[2.32,-0.33],[2.43,-0.46],[2.5,-0.38],[2.6,-0.45],[2.67,-0.38],[2.75,-0.47],[2.83,-0.32],[2.95,-0.4],[3.03,-0.12],[3.13,-0.3],[3.23,-0.06],[3.33,-0.44],[3.42,-0.2],[3.53,-0.6],[3.67,-0.15],[3.77,-0.37],[3.87,-0.1],[3.97,-0.3],[4.05,-0.2],[4.17,-0.36],[4.27,-0.4],[4.37,-0.37],[4.53,0.02],[4.65,-0.42],[4.87,-0.08],[4.98,-0.24],[5.07,-0.25],[5.15,-0.35],[5.25,-0.29],[5.35,-0.34],[5.45,-0.33],[5.55,-0.3],[5.68,-0.36],[5.8,-0.3],[5.9,-0.3],[6.0,-0.5],[6.15,-0.28],[6.28,-0.35],[6.38,-0.25],[6.47,-0.28],[6.55,-0.23],[6.63,-0.29],[6.72,-0.25],[6.85,-0.44],[6.95,-0.37],[7.05,-0.38],[7.17,-0.42],[7.28,-0.28],[7.35,-0.16],[7.45,-0.15],[7.55,-0.2],[7.63,-0.12],[7.75,-0.25],[7.82,-0.15],[7.9,-0.2],[7.97,-0.15],[8.05,-0.25],[8.15,-0.2],[8.25,-0.23],[8.35,-0.18],[8.45,-0.16],[8.55,-0.17],[8.67,-0.12],[8.8,-0.3],[8.9,-0.34],[9.0,-0.3],[9.12,-0.33],[9.2,-0.38],[9.33,-0.15],[9.45,-0.3],[9.55,-0.15],[9.63,-0.2],[9.73,-0.3],[9.83,-0.15],[9.97,-0.4],[10.05,-0.25],[10.12,-0.2],[10.22,-0.3],[10.3,-0.2],[10.38,-0.35],[10.48,-0.2],[10.58,-0.56],[10.7,-0.2],[10.8,-0.48],[10.9,-0.2],[11.0,-0.48],[11.1,-0.15],[11.2,-0.45],[11.28,-0.33],[11.38,-0.44],[11.45,-0.33],[11.55,-0.5],[11.65,-0.3],[11.73,-0.67],[11.85,-0.1],[11.95,-0.57],[12.05,-0.25],[12.15,-0.38],[12.27,-0.43],[12.38,-0.3],[12.5,-0.17],[12.6,-0.55],[12.7,-0.05],[12.82,-0.68],[12.9,-0.4],[12.96,-0.55]];
// 19 Conimicut Light
const obs19=[[1,-0.22],[1.05,-0.13],[1.1,-0.2],[1.2,-0.53],[1.3,-0.2],[1.37,-0.12],[1.45,-0.17],[1.55,-0.05],[1.62,0.0],[1.72,-0.12],[1.8,-0.03],[1.87,-0.29],[1.97,0.06],[2.07,-0.22],[2.15,-0.12],[2.25,-0.2],[2.33,-0.12],[2.42,-0.23],[2.52,-0.03],[2.62,-0.1],[2.7,-0.13],[2.78,-0.21],[2.88,-0.02],[2.97,-0.1],[3.08,0.4],[3.2,0.43],[3.32,-0.05],[3.42,0.08],[3.52,-0.2],[3.65,0.0],[3.72,0.13],[3.82,-0.05],[3.92,0.08],[4.0,-0.12],[4.08,-0.03],[4.17,-0.1],[4.27,-0.07],[4.35,-0.07],[4.52,0.13],[4.67,-0.17],[4.85,0.06],[4.97,-0.05],[5.05,-0.03],[5.15,-0.05],[5.25,-0.03],[5.35,-0.04],[5.45,0.0],[5.55,-0.04],[5.65,0.01],[5.75,0.01],[5.85,0.01],[5.95,0.01],[6.05,0.05],[6.15,0.23],[6.27,0.02],[6.35,0.01],[6.45,0.03],[6.55,0.01],[6.65,0.08],[6.75,0.03],[6.85,0.06],[6.95,0.04],[7.08,-0.03],[7.18,-0.08],[7.3,-0.02],[7.45,0.1],[7.55,0.03],[7.65,0.05],[7.75,0.08],[7.85,0.02],[7.95,0.05],[8.05,0.04],[8.15,0.06],[8.25,0.1],[8.35,0.07],[8.45,0.08],[8.55,0.06],[8.65,0.13],[8.75,0.0],[8.88,0.01],[8.97,0.05],[9.05,0.02],[9.2,0.0],[9.32,0.14],[9.45,0.04],[9.55,0.07],[9.65,0.2],[9.75,0.02],[9.85,0.14],[9.95,-0.02],[10.05,0.03],[10.15,0.12],[10.25,0.0],[10.37,0.24],[10.5,0.0],[10.6,-0.13],[10.68,0.05],[10.77,-0.1],[10.88,0.18],[10.98,0.05],[11.05,0.11],[11.12,-0.08],[11.2,0.06],[11.35,-0.08],[11.45,-0.15],[11.55,-0.1],[11.62,0.1],[11.72,-0.19],[11.85,0.37],[11.95,0.06],[12.05,0.2],[12.15,-0.02],[12.28,-0.05],[12.38,0.0],[12.47,-0.07],[12.55,0.06],[12.65,-0.1],[12.72,0.16],[12.82,-0.17],[12.92,0.07],[12.96,-0.2]];
const mod19=[[1,-0.28],[1.07,0.0],[1.2,-0.48],[1.3,-0.1],[1.38,0.02],[1.45,-0.02],[1.52,0.02],[1.63,-0.13],[1.73,0.09],[1.83,-0.21],[1.94,0.16],[2.05,-0.1],[2.15,0.01],[2.25,-0.1],[2.32,-0.02],[2.43,-0.16],[2.5,-0.06],[2.6,-0.13],[2.65,-0.09],[2.75,-0.18],[2.85,-0.02],[2.95,-0.12],[3.05,0.14],[3.15,-0.02],[3.23,0.23],[3.33,-0.15],[3.43,0.1],[3.53,-0.3],[3.68,0.16],[3.78,-0.06],[3.88,0.2],[3.98,-0.01],[4.05,0.09],[4.17,-0.07],[4.3,-0.1],[4.42,-0.06],[4.53,0.26],[4.67,-0.11],[4.87,0.21],[4.98,0.03],[5.07,0.02],[5.15,-0.03],[5.27,0.01],[5.37,-0.06],[5.45,-0.02],[5.55,-0.03],[5.65,-0.06],[5.75,-0.02],[5.85,-0.01],[5.95,-0.05],[6.0,-0.2],[6.15,0.0],[6.28,-0.05],[6.38,0.05],[6.48,0.03],[6.55,0.05],[6.62,0.01],[6.72,0.03],[6.85,-0.14],[6.95,-0.08],[7.02,-0.1],[7.1,-0.08],[7.18,-0.11],[7.3,0.0],[7.42,0.15],[7.5,0.15],[7.55,0.17],[7.63,0.07],[7.72,0.15],[7.8,0.12],[7.88,0.15],[7.97,0.07],[8.05,0.13],[8.15,0.07],[8.25,0.06],[8.35,0.08],[8.45,0.09],[8.55,0.1],[8.67,0.18],[8.77,-0.02],[8.85,-0.01],[8.95,-0.03],[9.03,-0.01],[9.12,-0.02],[9.18,-0.07],[9.33,0.16],[9.43,0.06],[9.52,0.14],[9.6,0.12],[9.68,0.14],[9.77,-0.09],[9.85,0.07],[9.95,-0.11],[10.03,0.05],[10.12,0.09],[10.25,-0.04],[10.33,0.09],[10.42,-0.01],[10.5,0.09],[10.58,-0.24],[10.7,0.12],[10.8,-0.18],[10.88,0.17],[10.98,-0.05],[11.05,-0.1],[11.13,-0.14],[11.22,0.0],[11.3,-0.1],[11.45,-0.18],[11.55,-0.1],[11.65,0.05],[11.75,-0.34],[11.85,0.22],[11.95,-0.22],[12.05,0.05],[12.15,-0.11],[12.25,-0.13],[12.35,0.0],[12.45,-0.22],[12.55,0.15],[12.62,-0.22],[12.72,0.25],[12.83,-0.37],[12.92,-0.1],[12.96,-0.2]];
// 20 Fall River
const obs20=[[1,-0.5],[1.05,-0.4],[1.1,-0.45],[1.2,-0.84],[1.3,-0.5],[1.37,-0.43],[1.43,-0.46],[1.53,-0.37],[1.62,-0.41],[1.72,-0.33],[1.87,-0.6],[1.97,-0.23],[2.07,-0.5],[2.15,-0.42],[2.25,-0.5],[2.32,-0.43],[2.42,-0.54],[2.52,-0.34],[2.62,-0.45],[2.7,-0.47],[2.75,-0.53],[2.85,-0.33],[2.95,-0.4],[3.07,0.05],[3.2,0.12],[3.3,-0.4],[3.4,-0.2],[3.52,-0.5],[3.7,-0.2],[3.8,-0.35],[3.92,-0.23],[4.0,-0.41],[4.07,-0.31],[4.17,-0.4],[4.3,-0.37],[4.4,-0.39],[4.55,-0.19],[4.7,-0.47],[4.87,-0.25],[5.0,-0.36],[5.1,-0.33],[5.18,-0.36],[5.3,-0.33],[5.4,-0.34],[5.5,-0.3],[5.6,-0.36],[5.75,-0.3],[5.85,-0.3],[5.97,-0.29],[6.05,-0.27],[6.15,-0.07],[6.25,-0.3],[6.35,-0.3],[6.5,-0.25],[6.6,-0.29],[6.7,-0.23],[6.8,-0.27],[6.95,-0.25],[7.05,-0.3],[7.15,-0.36],[7.25,-0.38],[7.35,-0.28],[7.45,-0.32],[7.55,-0.2],[7.65,-0.28],[7.75,-0.23],[7.85,-0.28],[7.95,-0.3],[8.05,-0.25],[8.15,-0.27],[8.25,-0.23],[8.35,-0.18],[8.45,-0.23],[8.55,-0.2],[8.62,-0.25],[8.72,-0.2],[8.82,-0.3],[8.97,-0.25],[9.1,-0.28],[9.2,-0.3],[9.32,-0.15],[9.45,-0.28],[9.55,-0.2],[9.65,-0.1],[9.75,-0.29],[9.85,-0.15],[9.95,-0.29],[10.05,-0.22],[10.15,-0.28],[10.25,-0.18],[10.35,-0.3],[10.43,-0.07],[10.55,-0.34],[10.63,-0.42],[10.72,-0.23],[10.8,-0.33],[10.9,-0.14],[11.0,-0.28],[11.08,-0.25],[11.15,-0.41],[11.25,-0.25],[11.4,-0.46],[11.5,-0.38],[11.62,-0.23],[11.72,-0.48],[11.85,0.05],[11.95,-0.28],[12.05,-0.13],[12.15,-0.3],[12.27,-0.4],[12.37,-0.3],[12.45,-0.38],[12.53,-0.25],[12.62,-0.41],[12.72,-0.15],[12.82,-0.5],[12.9,-0.24],[12.96,-0.5]];
const mod20=[[1,-0.58],[1.08,-0.29],[1.2,-0.76],[1.3,-0.4],[1.4,-0.3],[1.48,-0.34],[1.55,-0.3],[1.63,-0.45],[1.73,-0.22],[1.85,-0.52],[1.95,-0.15],[2.05,-0.41],[2.15,-0.31],[2.25,-0.41],[2.32,-0.34],[2.42,-0.48],[2.5,-0.38],[2.6,-0.45],[2.67,-0.4],[2.75,-0.5],[2.85,-0.34],[2.95,-0.43],[3.05,-0.16],[3.15,-0.35],[3.25,-0.08],[3.33,-0.46],[3.43,-0.2],[3.53,-0.6],[3.7,-0.15],[3.8,-0.37],[3.9,-0.12],[4.0,-0.33],[4.07,-0.21],[4.17,-0.36],[4.3,-0.4],[4.4,-0.39],[4.55,-0.06],[4.68,-0.43],[4.88,-0.11],[5.0,-0.27],[5.1,-0.34],[5.18,-0.31],[5.3,-0.38],[5.4,-0.34],[5.5,-0.38],[5.6,-0.33],[5.75,-0.33],[5.85,-0.4],[6.0,-0.52],[6.13,-0.3],[6.25,-0.37],[6.37,-0.27],[6.47,-0.28],[6.58,-0.26],[6.65,-0.3],[6.75,-0.28],[6.87,-0.45],[6.97,-0.4],[7.05,-0.41],[7.12,-0.4],[7.2,-0.43],[7.32,-0.16],[7.43,-0.17],[7.52,-0.14],[7.62,-0.23],[7.72,-0.17],[7.82,-0.2],[7.9,-0.19],[7.97,-0.23],[8.05,-0.19],[8.15,-0.25],[8.3,-0.24],[8.42,-0.18],[8.55,-0.18],[8.67,-0.13],[8.78,-0.32],[8.88,-0.33],[8.97,-0.35],[9.07,-0.33],[9.17,-0.38],[9.33,-0.16],[9.45,-0.24],[9.53,-0.18],[9.62,-0.19],[9.7,-0.25],[9.77,-0.4],[9.87,-0.26],[9.97,-0.42],[10.1,-0.25],[10.2,-0.27],[10.3,-0.36],[10.4,-0.23],[10.48,-0.28],[10.52,-0.23],[10.58,-0.53],[10.7,-0.21],[10.8,-0.49],[10.9,-0.15],[11.0,-0.42],[11.1,-0.35],[11.17,-0.47],[11.28,-0.34],[11.45,-0.5],[11.55,-0.41],[11.62,-0.28],[11.75,-0.66],[11.85,-0.12],[11.95,-0.54],[12.05,-0.27],[12.15,-0.42],[12.27,-0.45],[12.37,-0.33],[12.47,-0.17],[12.58,-0.55],[12.7,-0.09],[12.82,-0.69],[12.9,-0.46],[12.96,-0.53]];

const obsList=[obs01,obs02,obs03,obs04,obs05,obs06,obs07,obs08,obs09,obs10,obs11,obs12,obs13,obs14,obs15,obs16,obs17,obs18,obs19,obs20];
const modList=[mod01,mod02,mod03,mod04,mod05,mod06,mod07,mod08,mod09,mod10,mod11,mod12,mod13,mod14,mod15,mod16,mod17,mod18,mod19,mod20];

// ---------------- LAYOUT ----------------
const F = 'DejaVu Sans';
const PAGE_W = 5150, PAGE_H = 1950;
const colLeft=[88,1369,2650,3932], rowTop=[37,425,812,1199,1586], W=1209, H=327;
function fmt(v,dec){ const s=Math.abs(v).toFixed(dec); return (v< -1e-9?'\u2212':'')+s; }

// the browser viewport may be narrower than 5150 px: map the 5150x1950 drawing onto it
const box = document.getElementById('c');
const sx = window.innerWidth/PAGE_W, sy = window.innerHeight/PAGE_H;
if (sx > 0 && sy > 0 && (Math.abs(sx-1) > 0.002 || Math.abs(sy-1) > 0.002)) box.style.transform = 'scale(' + sx + ',' + sy + ')';

const grids=[], xAxes=[], yAxes=[], series=[], titles=[];
stations.forEach((name,i)=>{
  const r=Math.floor(i/4), c=i%4, left=colLeft[c], top=rowTop[r];
  grids.push({left:left, top:top, width:W, height:H, show:true, borderColor:'#000', borderWidth:1, backgroundColor:'transparent'});
  titles.push({text:'station:'+name+' (datum:xGEOID)', left:left+W/2, top:top-25, textAlign:'center',
    textStyle:{fontFamily:F, fontSize:18, fontWeight:'normal', color:'#000'}});
  const ys=obsList[i].concat(modList[i]).map(p=>p[1]);
  const lo=Math.min(...ys), hi=Math.max(...ys), pad=(hi-lo)*0.05;
  const ymin=lo-pad, ymax=hi+pad, st=yTickStep[i], dec=(st===0.25)?2:1;
  const ticks=[];
  for(let k=Math.ceil(ymin/st-1e-9); k*st<=ymax+1e-9; k++) ticks.push(+(k*st).toFixed(4));
  xAxes.push({type:'value', gridIndex:i, min:X_MIN, max:X_MAX,
    axisLine:{show:true, onZero:false, lineStyle:{color:'#000', width:1}},
    axisTick:{show:true, length:5, customValues:xTicks, lineStyle:{color:'#000', width:1}},
    axisLabel:{customValues:xTicks, fontSize:13, fontFamily:F, color:'#000', margin:8},
    splitLine:{show:false}});
  yAxes.push({type:'value', gridIndex:i, min:ymin, max:ymax,
    name:'Elevation (m)', nameLocation:'middle', nameGap:50, nameRotate:90,
    nameTextStyle:{fontFamily:F, fontSize:13, color:'#000'},
    axisLine:{show:true, onZero:false, lineStyle:{color:'#000', width:1}},
    axisTick:{show:true, length:5, customValues:ticks, lineStyle:{color:'#000', width:1}},
    axisLabel:{customValues:ticks, fontSize:13, fontFamily:F, color:'#000', margin:9, formatter:(v)=>fmt(v,dec)},
    splitLine:{show:false}});
  series.push({name:seriesNames[0], type:'line', xAxisIndex:i, yAxisIndex:i, data:obsList[i], symbol:'none', smooth:0.4,
    lineStyle:{color:'#ff0000', width:2.4, type:[13,4,3,4]}, itemStyle:{color:'#ff0000'}, z:2});
  series.push({name:seriesNames[1], type:'line', xAxisIndex:i, yAxisIndex:i, data:modList[i], symbol:'none', smooth:0.4,
    lineStyle:{color:'#008000', width:0.9, type:[4,2]}, itemStyle:{color:'#008000'}, z:3});
  series.push({name:seriesNames[2], type:'line', xAxisIndex:i, yAxisIndex:i, data:modList[i].filter(p=>p[0]<=RUN202A_END), symbol:'none', smooth:0.4,
    lineStyle:{color:'#0000ff', width:1}, itemStyle:{color:'#0000ff'}, z:4});
});

const chart = echarts.init(box, null, {renderer:'canvas', width:PAGE_W, height:PAGE_H});
chart.setOption({
  animation:false, backgroundColor:'#ffffff',
  title:titles, grid:grids, xAxis:xAxes, yAxis:yAxes, series:series,
  legend:{data:seriesNames, left:1175, top:44, orient:'vertical', itemWidth:28, itemHeight:10, itemGap:6,
    padding:[6,8,6,5], backgroundColor:'rgba(255,255,255,0.85)', borderColor:'#cccccc', borderWidth:1, borderRadius:3,
    itemStyle:{opacity:0}, textStyle:{fontFamily:F, fontSize:13, color:'#000'}, z:10, selectedMode:false}
});
</script>
</body></html>
